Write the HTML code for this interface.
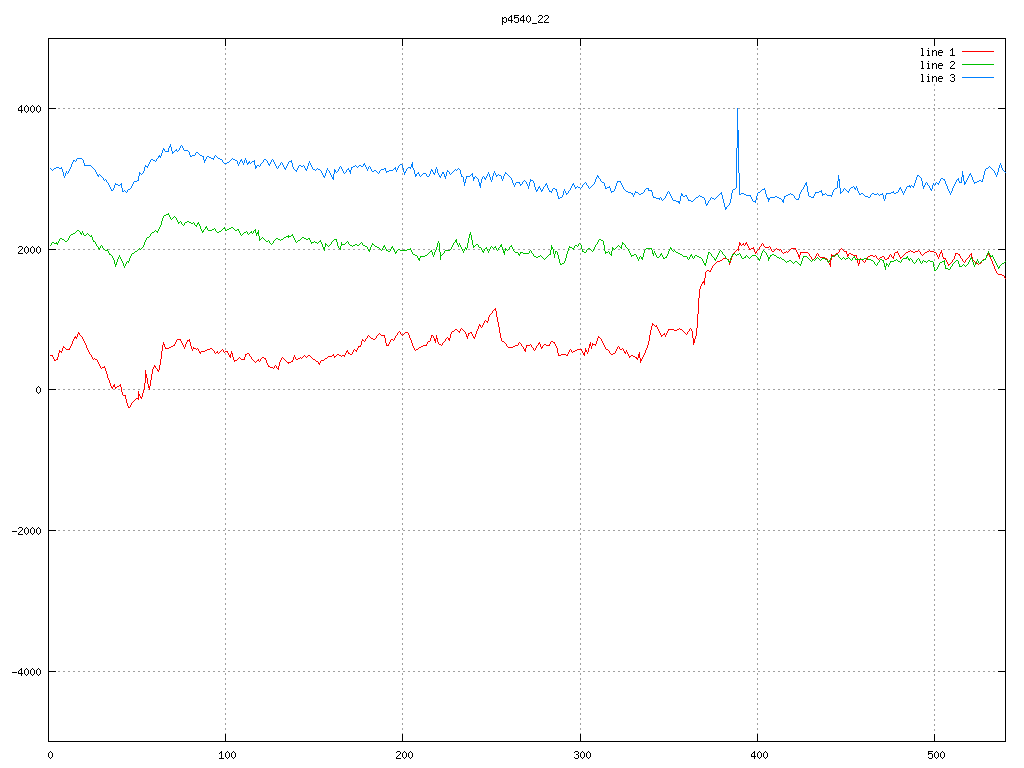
<!DOCTYPE html>
<html><head><meta charset="utf-8"><style>
html,body{margin:0;padding:0;background:#fff;width:1024px;height:768px;overflow:hidden}
svg{display:block}
</style></head><body>
<svg width="1024" height="768" viewBox="0 0 1024 768">
<rect width="1024" height="768" fill="#fff"/>
<g shape-rendering="crispEdges"><line x1="48" y1="671.5" x2="1006" y2="671.5" stroke="#a0a0a0" stroke-dasharray="2 3"/><line x1="48" y1="530.5" x2="1006" y2="530.5" stroke="#a0a0a0" stroke-dasharray="2 3"/><line x1="48" y1="389.5" x2="1006" y2="389.5" stroke="#a0a0a0" stroke-dasharray="2 3"/><line x1="48" y1="249.5" x2="1006" y2="249.5" stroke="#a0a0a0" stroke-dasharray="2 3"/><line x1="48" y1="108.5" x2="1006" y2="108.5" stroke="#a0a0a0" stroke-dasharray="2 3"/><line x1="225.5" y1="38" x2="225.5" y2="742" stroke="#a0a0a0" stroke-dasharray="2 3"/><line x1="402.5" y1="38" x2="402.5" y2="742" stroke="#a0a0a0" stroke-dasharray="2 3"/><line x1="580.5" y1="38" x2="580.5" y2="742" stroke="#a0a0a0" stroke-dasharray="2 3"/><line x1="757.5" y1="38" x2="757.5" y2="742" stroke="#a0a0a0" stroke-dasharray="2 3"/><line x1="934.5" y1="84" x2="934.5" y2="742" stroke="#a0a0a0" stroke-dasharray="2 3"/><rect x="48" y="671" width="8" height="1" fill="#000"/><rect x="998" y="671" width="8" height="1" fill="#000"/><rect x="48" y="530" width="8" height="1" fill="#000"/><rect x="998" y="530" width="8" height="1" fill="#000"/><rect x="48" y="389" width="8" height="1" fill="#000"/><rect x="998" y="389" width="8" height="1" fill="#000"/><rect x="48" y="249" width="8" height="1" fill="#000"/><rect x="998" y="249" width="8" height="1" fill="#000"/><rect x="48" y="108" width="8" height="1" fill="#000"/><rect x="998" y="108" width="8" height="1" fill="#000"/><rect x="225" y="734" width="1" height="8" fill="#000"/><rect x="225" y="38" width="1" height="8" fill="#000"/><rect x="402" y="734" width="1" height="8" fill="#000"/><rect x="402" y="38" width="1" height="8" fill="#000"/><rect x="580" y="734" width="1" height="8" fill="#000"/><rect x="580" y="38" width="1" height="8" fill="#000"/><rect x="757" y="734" width="1" height="8" fill="#000"/><rect x="757" y="38" width="1" height="8" fill="#000"/><rect x="934" y="734" width="1" height="8" fill="#000"/><rect x="934" y="38" width="1" height="8" fill="#000"/><rect x="48" y="38" width="958" height="1" fill="#000"/><rect x="48" y="741" width="958" height="1" fill="#000"/><rect x="48" y="38" width="1" height="704" fill="#000"/><rect x="1005" y="38" width="1" height="704" fill="#000"/></g>
<g shape-rendering="crispEdges"><path fill="#000" d="M12 672h5v1h-5zM21 668h1v1h-1zM20 669h2v1h-2zM19 670h1v1h-1zM21 670h1v1h-1zM18 671h1v1h-1zM21 671h1v1h-1zM18 672h1v1h-1zM21 672h1v1h-1zM18 673h5v1h-5zM21 674h1v1h-1zM21 675h1v1h-1zM26 668h1v1h-1zM25 669h1v1h-1zM27 669h1v1h-1zM24 670h1v1h-1zM28 670h1v1h-1zM24 671h1v1h-1zM28 671h1v1h-1zM24 672h1v1h-1zM28 672h1v1h-1zM24 673h1v1h-1zM28 673h1v1h-1zM25 674h1v1h-1zM27 674h1v1h-1zM26 675h1v1h-1zM32 668h1v1h-1zM31 669h1v1h-1zM33 669h1v1h-1zM30 670h1v1h-1zM34 670h1v1h-1zM30 671h1v1h-1zM34 671h1v1h-1zM30 672h1v1h-1zM34 672h1v1h-1zM30 673h1v1h-1zM34 673h1v1h-1zM31 674h1v1h-1zM33 674h1v1h-1zM32 675h1v1h-1zM38 668h1v1h-1zM37 669h1v1h-1zM39 669h1v1h-1zM36 670h1v1h-1zM40 670h1v1h-1zM36 671h1v1h-1zM40 671h1v1h-1zM36 672h1v1h-1zM40 672h1v1h-1zM36 673h1v1h-1zM40 673h1v1h-1zM37 674h1v1h-1zM39 674h1v1h-1zM38 675h1v1h-1zM12 531h5v1h-5zM19 527h3v1h-3zM18 528h1v1h-1zM22 528h1v1h-1zM22 529h1v1h-1zM21 530h1v1h-1zM20 531h1v1h-1zM19 532h1v1h-1zM18 533h1v1h-1zM18 534h5v1h-5zM26 527h1v1h-1zM25 528h1v1h-1zM27 528h1v1h-1zM24 529h1v1h-1zM28 529h1v1h-1zM24 530h1v1h-1zM28 530h1v1h-1zM24 531h1v1h-1zM28 531h1v1h-1zM24 532h1v1h-1zM28 532h1v1h-1zM25 533h1v1h-1zM27 533h1v1h-1zM26 534h1v1h-1zM32 527h1v1h-1zM31 528h1v1h-1zM33 528h1v1h-1zM30 529h1v1h-1zM34 529h1v1h-1zM30 530h1v1h-1zM34 530h1v1h-1zM30 531h1v1h-1zM34 531h1v1h-1zM30 532h1v1h-1zM34 532h1v1h-1zM31 533h1v1h-1zM33 533h1v1h-1zM32 534h1v1h-1zM38 527h1v1h-1zM37 528h1v1h-1zM39 528h1v1h-1zM36 529h1v1h-1zM40 529h1v1h-1zM36 530h1v1h-1zM40 530h1v1h-1zM36 531h1v1h-1zM40 531h1v1h-1zM36 532h1v1h-1zM40 532h1v1h-1zM37 533h1v1h-1zM39 533h1v1h-1zM38 534h1v1h-1zM38 386h1v1h-1zM37 387h1v1h-1zM39 387h1v1h-1zM36 388h1v1h-1zM40 388h1v1h-1zM36 389h1v1h-1zM40 389h1v1h-1zM36 390h1v1h-1zM40 390h1v1h-1zM36 391h1v1h-1zM40 391h1v1h-1zM37 392h1v1h-1zM39 392h1v1h-1zM38 393h1v1h-1zM19 246h3v1h-3zM18 247h1v1h-1zM22 247h1v1h-1zM22 248h1v1h-1zM21 249h1v1h-1zM20 250h1v1h-1zM19 251h1v1h-1zM18 252h1v1h-1zM18 253h5v1h-5zM26 246h1v1h-1zM25 247h1v1h-1zM27 247h1v1h-1zM24 248h1v1h-1zM28 248h1v1h-1zM24 249h1v1h-1zM28 249h1v1h-1zM24 250h1v1h-1zM28 250h1v1h-1zM24 251h1v1h-1zM28 251h1v1h-1zM25 252h1v1h-1zM27 252h1v1h-1zM26 253h1v1h-1zM32 246h1v1h-1zM31 247h1v1h-1zM33 247h1v1h-1zM30 248h1v1h-1zM34 248h1v1h-1zM30 249h1v1h-1zM34 249h1v1h-1zM30 250h1v1h-1zM34 250h1v1h-1zM30 251h1v1h-1zM34 251h1v1h-1zM31 252h1v1h-1zM33 252h1v1h-1zM32 253h1v1h-1zM38 246h1v1h-1zM37 247h1v1h-1zM39 247h1v1h-1zM36 248h1v1h-1zM40 248h1v1h-1zM36 249h1v1h-1zM40 249h1v1h-1zM36 250h1v1h-1zM40 250h1v1h-1zM36 251h1v1h-1zM40 251h1v1h-1zM37 252h1v1h-1zM39 252h1v1h-1zM38 253h1v1h-1zM21 105h1v1h-1zM20 106h2v1h-2zM19 107h1v1h-1zM21 107h1v1h-1zM18 108h1v1h-1zM21 108h1v1h-1zM18 109h1v1h-1zM21 109h1v1h-1zM18 110h5v1h-5zM21 111h1v1h-1zM21 112h1v1h-1zM26 105h1v1h-1zM25 106h1v1h-1zM27 106h1v1h-1zM24 107h1v1h-1zM28 107h1v1h-1zM24 108h1v1h-1zM28 108h1v1h-1zM24 109h1v1h-1zM28 109h1v1h-1zM24 110h1v1h-1zM28 110h1v1h-1zM25 111h1v1h-1zM27 111h1v1h-1zM26 112h1v1h-1zM32 105h1v1h-1zM31 106h1v1h-1zM33 106h1v1h-1zM30 107h1v1h-1zM34 107h1v1h-1zM30 108h1v1h-1zM34 108h1v1h-1zM30 109h1v1h-1zM34 109h1v1h-1zM30 110h1v1h-1zM34 110h1v1h-1zM31 111h1v1h-1zM33 111h1v1h-1zM32 112h1v1h-1zM38 105h1v1h-1zM37 106h1v1h-1zM39 106h1v1h-1zM36 107h1v1h-1zM40 107h1v1h-1zM36 108h1v1h-1zM40 108h1v1h-1zM36 109h1v1h-1zM40 109h1v1h-1zM36 110h1v1h-1zM40 110h1v1h-1zM37 111h1v1h-1zM39 111h1v1h-1zM38 112h1v1h-1zM50 751h1v1h-1zM49 752h1v1h-1zM51 752h1v1h-1zM48 753h1v1h-1zM52 753h1v1h-1zM48 754h1v1h-1zM52 754h1v1h-1zM48 755h1v1h-1zM52 755h1v1h-1zM48 756h1v1h-1zM52 756h1v1h-1zM49 757h1v1h-1zM51 757h1v1h-1zM50 758h1v1h-1zM221 751h1v1h-1zM220 752h2v1h-2zM219 753h1v1h-1zM221 753h1v1h-1zM221 754h1v1h-1zM221 755h1v1h-1zM221 756h1v1h-1zM221 757h1v1h-1zM219 758h5v1h-5zM227 751h1v1h-1zM226 752h1v1h-1zM228 752h1v1h-1zM225 753h1v1h-1zM229 753h1v1h-1zM225 754h1v1h-1zM229 754h1v1h-1zM225 755h1v1h-1zM229 755h1v1h-1zM225 756h1v1h-1zM229 756h1v1h-1zM226 757h1v1h-1zM228 757h1v1h-1zM227 758h1v1h-1zM233 751h1v1h-1zM232 752h1v1h-1zM234 752h1v1h-1zM231 753h1v1h-1zM235 753h1v1h-1zM231 754h1v1h-1zM235 754h1v1h-1zM231 755h1v1h-1zM235 755h1v1h-1zM231 756h1v1h-1zM235 756h1v1h-1zM232 757h1v1h-1zM234 757h1v1h-1zM233 758h1v1h-1zM397 751h3v1h-3zM396 752h1v1h-1zM400 752h1v1h-1zM400 753h1v1h-1zM399 754h1v1h-1zM398 755h1v1h-1zM397 756h1v1h-1zM396 757h1v1h-1zM396 758h5v1h-5zM404 751h1v1h-1zM403 752h1v1h-1zM405 752h1v1h-1zM402 753h1v1h-1zM406 753h1v1h-1zM402 754h1v1h-1zM406 754h1v1h-1zM402 755h1v1h-1zM406 755h1v1h-1zM402 756h1v1h-1zM406 756h1v1h-1zM403 757h1v1h-1zM405 757h1v1h-1zM404 758h1v1h-1zM410 751h1v1h-1zM409 752h1v1h-1zM411 752h1v1h-1zM408 753h1v1h-1zM412 753h1v1h-1zM408 754h1v1h-1zM412 754h1v1h-1zM408 755h1v1h-1zM412 755h1v1h-1zM408 756h1v1h-1zM412 756h1v1h-1zM409 757h1v1h-1zM411 757h1v1h-1zM410 758h1v1h-1zM575 751h3v1h-3zM574 752h1v1h-1zM578 752h1v1h-1zM578 753h1v1h-1zM576 754h2v1h-2zM578 755h1v1h-1zM578 756h1v1h-1zM574 757h1v1h-1zM578 757h1v1h-1zM575 758h3v1h-3zM582 751h1v1h-1zM581 752h1v1h-1zM583 752h1v1h-1zM580 753h1v1h-1zM584 753h1v1h-1zM580 754h1v1h-1zM584 754h1v1h-1zM580 755h1v1h-1zM584 755h1v1h-1zM580 756h1v1h-1zM584 756h1v1h-1zM581 757h1v1h-1zM583 757h1v1h-1zM582 758h1v1h-1zM588 751h1v1h-1zM587 752h1v1h-1zM589 752h1v1h-1zM586 753h1v1h-1zM590 753h1v1h-1zM586 754h1v1h-1zM590 754h1v1h-1zM586 755h1v1h-1zM590 755h1v1h-1zM586 756h1v1h-1zM590 756h1v1h-1zM587 757h1v1h-1zM589 757h1v1h-1zM588 758h1v1h-1zM754 751h1v1h-1zM753 752h2v1h-2zM752 753h1v1h-1zM754 753h1v1h-1zM751 754h1v1h-1zM754 754h1v1h-1zM751 755h1v1h-1zM754 755h1v1h-1zM751 756h5v1h-5zM754 757h1v1h-1zM754 758h1v1h-1zM759 751h1v1h-1zM758 752h1v1h-1zM760 752h1v1h-1zM757 753h1v1h-1zM761 753h1v1h-1zM757 754h1v1h-1zM761 754h1v1h-1zM757 755h1v1h-1zM761 755h1v1h-1zM757 756h1v1h-1zM761 756h1v1h-1zM758 757h1v1h-1zM760 757h1v1h-1zM759 758h1v1h-1zM765 751h1v1h-1zM764 752h1v1h-1zM766 752h1v1h-1zM763 753h1v1h-1zM767 753h1v1h-1zM763 754h1v1h-1zM767 754h1v1h-1zM763 755h1v1h-1zM767 755h1v1h-1zM763 756h1v1h-1zM767 756h1v1h-1zM764 757h1v1h-1zM766 757h1v1h-1zM765 758h1v1h-1zM928 751h5v1h-5zM928 752h1v1h-1zM928 753h4v1h-4zM928 754h1v1h-1zM932 754h1v1h-1zM932 755h1v1h-1zM932 756h1v1h-1zM928 757h1v1h-1zM932 757h1v1h-1zM929 758h3v1h-3zM936 751h1v1h-1zM935 752h1v1h-1zM937 752h1v1h-1zM934 753h1v1h-1zM938 753h1v1h-1zM934 754h1v1h-1zM938 754h1v1h-1zM934 755h1v1h-1zM938 755h1v1h-1zM934 756h1v1h-1zM938 756h1v1h-1zM935 757h1v1h-1zM937 757h1v1h-1zM936 758h1v1h-1zM942 751h1v1h-1zM941 752h1v1h-1zM943 752h1v1h-1zM940 753h1v1h-1zM944 753h1v1h-1zM940 754h1v1h-1zM944 754h1v1h-1zM940 755h1v1h-1zM944 755h1v1h-1zM940 756h1v1h-1zM944 756h1v1h-1zM941 757h1v1h-1zM943 757h1v1h-1zM942 758h1v1h-1zM502 17h1v1h-1zM504 17h2v1h-2zM502 18h2v1h-2zM506 18h1v1h-1zM502 19h1v1h-1zM506 19h1v1h-1zM502 20h1v1h-1zM506 20h1v1h-1zM502 21h2v1h-2zM506 21h1v1h-1zM502 22h1v1h-1zM504 22h2v1h-2zM502 23h1v1h-1zM502 24h1v1h-1zM511 15h1v1h-1zM510 16h2v1h-2zM509 17h1v1h-1zM511 17h1v1h-1zM508 18h1v1h-1zM511 18h1v1h-1zM508 19h1v1h-1zM511 19h1v1h-1zM508 20h5v1h-5zM511 21h1v1h-1zM511 22h1v1h-1zM514 15h5v1h-5zM514 16h1v1h-1zM514 17h4v1h-4zM514 18h1v1h-1zM518 18h1v1h-1zM518 19h1v1h-1zM518 20h1v1h-1zM514 21h1v1h-1zM518 21h1v1h-1zM515 22h3v1h-3zM523 15h1v1h-1zM522 16h2v1h-2zM521 17h1v1h-1zM523 17h1v1h-1zM520 18h1v1h-1zM523 18h1v1h-1zM520 19h1v1h-1zM523 19h1v1h-1zM520 20h5v1h-5zM523 21h1v1h-1zM523 22h1v1h-1zM528 15h1v1h-1zM527 16h1v1h-1zM529 16h1v1h-1zM526 17h1v1h-1zM530 17h1v1h-1zM526 18h1v1h-1zM530 18h1v1h-1zM526 19h1v1h-1zM530 19h1v1h-1zM526 20h1v1h-1zM530 20h1v1h-1zM527 21h1v1h-1zM529 21h1v1h-1zM528 22h1v1h-1zM532 23h5v1h-5zM539 15h3v1h-3zM538 16h1v1h-1zM542 16h1v1h-1zM542 17h1v1h-1zM541 18h1v1h-1zM540 19h1v1h-1zM539 20h1v1h-1zM538 21h1v1h-1zM538 22h5v1h-5zM545 15h3v1h-3zM544 16h1v1h-1zM548 16h1v1h-1zM548 17h1v1h-1zM547 18h1v1h-1zM546 19h1v1h-1zM545 20h1v1h-1zM544 21h1v1h-1zM544 22h5v1h-5zM921 48h2v1h-2zM922 49h1v1h-1zM922 50h1v1h-1zM922 51h1v1h-1zM922 52h1v1h-1zM922 53h1v1h-1zM922 54h1v1h-1zM921 55h3v1h-3zM928 48h1v1h-1zM927 50h2v1h-2zM928 51h1v1h-1zM928 52h1v1h-1zM928 53h1v1h-1zM928 54h1v1h-1zM927 55h3v1h-3zM932 50h1v1h-1zM934 50h2v1h-2zM932 51h2v1h-2zM936 51h1v1h-1zM932 52h1v1h-1zM936 52h1v1h-1zM932 53h1v1h-1zM936 53h1v1h-1zM932 54h1v1h-1zM936 54h1v1h-1zM932 55h1v1h-1zM936 55h1v1h-1zM939 50h3v1h-3zM938 51h1v1h-1zM942 51h1v1h-1zM938 52h5v1h-5zM938 53h1v1h-1zM938 54h1v1h-1zM939 55h3v1h-3zM952 48h1v1h-1zM951 49h2v1h-2zM950 50h1v1h-1zM952 50h1v1h-1zM952 51h1v1h-1zM952 52h1v1h-1zM952 53h1v1h-1zM952 54h1v1h-1zM950 55h5v1h-5zM921 61h2v1h-2zM922 62h1v1h-1zM922 63h1v1h-1zM922 64h1v1h-1zM922 65h1v1h-1zM922 66h1v1h-1zM922 67h1v1h-1zM921 68h3v1h-3zM928 61h1v1h-1zM927 63h2v1h-2zM928 64h1v1h-1zM928 65h1v1h-1zM928 66h1v1h-1zM928 67h1v1h-1zM927 68h3v1h-3zM932 63h1v1h-1zM934 63h2v1h-2zM932 64h2v1h-2zM936 64h1v1h-1zM932 65h1v1h-1zM936 65h1v1h-1zM932 66h1v1h-1zM936 66h1v1h-1zM932 67h1v1h-1zM936 67h1v1h-1zM932 68h1v1h-1zM936 68h1v1h-1zM939 63h3v1h-3zM938 64h1v1h-1zM942 64h1v1h-1zM938 65h5v1h-5zM938 66h1v1h-1zM938 67h1v1h-1zM939 68h3v1h-3zM951 61h3v1h-3zM950 62h1v1h-1zM954 62h1v1h-1zM954 63h1v1h-1zM953 64h1v1h-1zM952 65h1v1h-1zM951 66h1v1h-1zM950 67h1v1h-1zM950 68h5v1h-5zM921 74h2v1h-2zM922 75h1v1h-1zM922 76h1v1h-1zM922 77h1v1h-1zM922 78h1v1h-1zM922 79h1v1h-1zM922 80h1v1h-1zM921 81h3v1h-3zM928 74h1v1h-1zM927 76h2v1h-2zM928 77h1v1h-1zM928 78h1v1h-1zM928 79h1v1h-1zM928 80h1v1h-1zM927 81h3v1h-3zM932 76h1v1h-1zM934 76h2v1h-2zM932 77h2v1h-2zM936 77h1v1h-1zM932 78h1v1h-1zM936 78h1v1h-1zM932 79h1v1h-1zM936 79h1v1h-1zM932 80h1v1h-1zM936 80h1v1h-1zM932 81h1v1h-1zM936 81h1v1h-1zM939 76h3v1h-3zM938 77h1v1h-1zM942 77h1v1h-1zM938 78h5v1h-5zM938 79h1v1h-1zM938 80h1v1h-1zM939 81h3v1h-3zM951 74h3v1h-3zM950 75h1v1h-1zM954 75h1v1h-1zM954 76h1v1h-1zM952 77h2v1h-2zM954 78h1v1h-1zM954 79h1v1h-1zM950 80h1v1h-1zM954 80h1v1h-1zM951 81h3v1h-3z"/></g>
<g shape-rendering="crispEdges"><rect x="962" y="51" width="32" height="1" fill="#ff0000"/><rect x="962" y="64" width="32" height="1" fill="#00c000"/><rect x="962" y="77" width="32" height="1" fill="#0080ff"/></g>
<g shape-rendering="crispEdges"><path fill="#ff0000" d="M739 242h1v1h-1zM746 242h1v1h-1zM739 243h2v1h-2zM743 243h1v1h-1zM745 243h2v1h-2zM762 243h1v1h-1zM739 244h2v1h-2zM742 244h2v1h-2zM745 244h1v1h-1zM747 244h1v1h-1zM761 244h1v1h-1zM763 244h1v1h-1zM739 245h1v1h-1zM741 245h1v1h-1zM744 245h1v1h-1zM747 245h1v1h-1zM761 245h1v1h-1zM763 245h1v1h-1zM738 246h1v1h-1zM748 246h1v1h-1zM760 246h1v1h-1zM764 246h1v1h-1zM769 246h1v1h-1zM738 247h1v1h-1zM748 247h1v1h-1zM753 247h1v1h-1zM759 247h1v1h-1zM765 247h4v1h-4zM770 247h1v1h-1zM738 248h1v1h-1zM749 248h1v1h-1zM751 248h3v1h-3zM759 248h1v1h-1zM770 248h1v1h-1zM776 248h1v1h-1zM791 248h5v1h-5zM841 248h1v1h-1zM737 249h2v1h-2zM749 249h2v1h-2zM754 249h1v1h-1zM758 249h1v1h-1zM771 249h1v1h-1zM775 249h1v1h-1zM777 249h2v1h-2zM780 249h1v1h-1zM790 249h1v1h-1zM795 249h1v1h-1zM840 249h1v1h-1zM842 249h1v1h-1zM736 250h1v1h-1zM738 250h1v1h-1zM754 250h1v1h-1zM757 250h1v1h-1zM771 250h1v1h-1zM774 250h1v1h-1zM779 250h1v1h-1zM781 250h1v1h-1zM789 250h1v1h-1zM796 250h1v1h-1zM839 250h1v1h-1zM843 250h1v1h-1zM910 250h1v1h-1zM918 250h1v1h-1zM929 250h1v1h-1zM941 250h1v1h-1zM735 251h1v1h-1zM754 251h1v1h-1zM756 251h1v1h-1zM772 251h2v1h-2zM781 251h1v1h-1zM786 251h1v1h-1zM788 251h1v1h-1zM796 251h1v1h-1zM839 251h1v1h-1zM844 251h3v1h-3zM897 251h1v1h-1zM908 251h2v1h-2zM911 251h2v1h-2zM915 251h3v1h-3zM919 251h1v1h-1zM927 251h2v1h-2zM930 251h4v1h-4zM941 251h1v1h-1zM734 252h1v1h-1zM755 252h2v1h-2zM782 252h1v1h-1zM784 252h2v1h-2zM787 252h1v1h-1zM797 252h1v1h-1zM800 252h8v1h-8zM838 252h1v1h-1zM846 252h1v1h-1zM895 252h3v1h-3zM906 252h2v1h-2zM913 252h2v1h-2zM920 252h1v1h-1zM925 252h2v1h-2zM934 252h2v1h-2zM940 252h2v1h-2zM733 253h1v1h-1zM755 253h1v1h-1zM783 253h1v1h-1zM797 253h1v1h-1zM800 253h1v1h-1zM808 253h1v1h-1zM817 253h1v1h-1zM836 253h2v1h-2zM846 253h1v1h-1zM849 253h2v1h-2zM894 253h1v1h-1zM898 253h1v1h-1zM905 253h1v1h-1zM920 253h1v1h-1zM924 253h1v1h-1zM936 253h1v1h-1zM940 253h1v1h-1zM942 253h1v1h-1zM955 253h3v1h-3zM971 253h1v1h-1zM988 253h1v1h-1zM733 254h1v1h-1zM798 254h1v1h-1zM800 254h1v1h-1zM809 254h1v1h-1zM816 254h1v1h-1zM818 254h1v1h-1zM831 254h1v1h-1zM835 254h1v1h-1zM847 254h2v1h-2zM851 254h2v1h-2zM890 254h1v1h-1zM894 254h1v1h-1zM898 254h1v1h-1zM904 254h1v1h-1zM921 254h1v1h-1zM923 254h1v1h-1zM936 254h1v1h-1zM939 254h1v1h-1zM942 254h1v1h-1zM955 254h1v1h-1zM958 254h2v1h-2zM970 254h2v1h-2zM987 254h2v1h-2zM732 255h1v1h-1zM798 255h2v1h-2zM809 255h1v1h-1zM816 255h1v1h-1zM818 255h1v1h-1zM831 255h3v1h-3zM835 255h1v1h-1zM847 255h2v1h-2zM853 255h4v1h-4zM870 255h3v1h-3zM875 255h1v1h-1zM889 255h1v1h-1zM891 255h1v1h-1zM894 255h1v1h-1zM899 255h1v1h-1zM903 255h1v1h-1zM922 255h1v1h-1zM937 255h1v1h-1zM939 255h1v1h-1zM942 255h1v1h-1zM955 255h1v1h-1zM959 255h1v1h-1zM969 255h1v1h-1zM971 255h1v1h-1zM987 255h1v1h-1zM989 255h1v1h-1zM732 256h1v1h-1zM798 256h2v1h-2zM810 256h1v1h-1zM815 256h1v1h-1zM819 256h1v1h-1zM831 256h1v1h-1zM834 256h1v1h-1zM847 256h1v1h-1zM856 256h1v1h-1zM868 256h2v1h-2zM873 256h2v1h-2zM876 256h1v1h-1zM882 256h2v1h-2zM889 256h1v1h-1zM891 256h1v1h-1zM893 256h1v1h-1zM899 256h1v1h-1zM902 256h1v1h-1zM937 256h1v1h-1zM939 256h1v1h-1zM942 256h1v1h-1zM954 256h1v1h-1zM960 256h1v1h-1zM969 256h1v1h-1zM971 256h1v1h-1zM986 256h1v1h-1zM989 256h1v1h-1zM731 257h1v1h-1zM799 257h1v1h-1zM811 257h1v1h-1zM815 257h1v1h-1zM820 257h5v1h-5zM831 257h1v1h-1zM856 257h1v1h-1zM867 257h1v1h-1zM876 257h1v1h-1zM880 257h2v1h-2zM884 257h1v1h-1zM888 257h1v1h-1zM892 257h2v1h-2zM900 257h2v1h-2zM938 257h1v1h-1zM943 257h1v1h-1zM954 257h1v1h-1zM960 257h1v1h-1zM968 257h1v1h-1zM972 257h1v1h-1zM986 257h1v1h-1zM990 257h1v1h-1zM723 258h4v1h-4zM731 258h1v1h-1zM799 258h1v1h-1zM811 258h1v1h-1zM814 258h1v1h-1zM825 258h2v1h-2zM831 258h1v1h-1zM857 258h1v1h-1zM860 258h1v1h-1zM867 258h1v1h-1zM877 258h1v1h-1zM879 258h1v1h-1zM884 258h1v1h-1zM887 258h2v1h-2zM893 258h1v1h-1zM900 258h1v1h-1zM938 258h1v1h-1zM943 258h3v1h-3zM954 258h1v1h-1zM961 258h1v1h-1zM967 258h1v1h-1zM972 258h1v1h-1zM985 258h1v1h-1zM990 258h1v1h-1zM722 259h1v1h-1zM727 259h2v1h-2zM731 259h1v1h-1zM812 259h2v1h-2zM827 259h1v1h-1zM831 259h1v1h-1zM857 259h1v1h-1zM860 259h2v1h-2zM866 259h1v1h-1zM878 259h1v1h-1zM885 259h2v1h-2zM945 259h1v1h-1zM953 259h1v1h-1zM962 259h1v1h-1zM966 259h1v1h-1zM972 259h1v1h-1zM983 259h2v1h-2zM991 259h1v1h-1zM720 260h2v1h-2zM728 260h1v1h-1zM730 260h1v1h-1zM827 260h1v1h-1zM830 260h1v1h-1zM857 260h1v1h-1zM859 260h1v1h-1zM862 260h1v1h-1zM865 260h1v1h-1zM946 260h1v1h-1zM952 260h1v1h-1zM962 260h1v1h-1zM965 260h1v1h-1zM973 260h1v1h-1zM982 260h1v1h-1zM991 260h1v1h-1zM717 261h3v1h-3zM728 261h1v1h-1zM730 261h1v1h-1zM828 261h1v1h-1zM830 261h1v1h-1zM857 261h1v1h-1zM859 261h1v1h-1zM863 261h1v1h-1zM865 261h1v1h-1zM946 261h1v1h-1zM952 261h1v1h-1zM963 261h1v1h-1zM965 261h1v1h-1zM974 261h1v1h-1zM981 261h1v1h-1zM992 261h1v1h-1zM716 262h1v1h-1zM729 262h2v1h-2zM828 262h1v1h-1zM830 262h1v1h-1zM857 262h1v1h-1zM859 262h1v1h-1zM864 262h1v1h-1zM947 262h1v1h-1zM951 262h1v1h-1zM964 262h1v1h-1zM975 262h1v1h-1zM981 262h1v1h-1zM992 262h1v1h-1zM715 263h1v1h-1zM729 263h1v1h-1zM829 263h2v1h-2zM858 263h2v1h-2zM947 263h1v1h-1zM950 263h1v1h-1zM976 263h2v1h-2zM979 263h2v1h-2zM992 263h1v1h-1zM714 264h1v1h-1zM729 264h1v1h-1zM829 264h2v1h-2zM858 264h1v1h-1zM948 264h2v1h-2zM978 264h1v1h-1zM993 264h1v1h-1zM713 265h1v1h-1zM830 265h1v1h-1zM858 265h1v1h-1zM948 265h1v1h-1zM993 265h1v1h-1zM712 266h1v1h-1zM830 266h1v1h-1zM994 266h1v1h-1zM712 267h1v1h-1zM994 267h1v1h-1zM711 268h1v1h-1zM994 268h1v1h-1zM711 269h1v1h-1zM995 269h1v1h-1zM707 270h2v1h-2zM710 270h1v1h-1zM995 270h1v1h-1zM706 271h1v1h-1zM709 271h2v1h-2zM996 271h1v1h-1zM705 272h1v1h-1zM996 272h1v1h-1zM705 273h1v1h-1zM997 273h1v1h-1zM705 274h1v1h-1zM998 274h4v1h-4zM705 275h1v1h-1zM1002 275h2v1h-2zM705 276h1v1h-1zM1004 276h1v1h-1zM705 277h1v1h-1zM1004 277h1v1h-1zM704 278h1v1h-1zM1005 278h1v1h-1zM704 279h1v1h-1zM704 280h1v1h-1zM703 281h2v1h-2zM702 282h3v1h-3zM702 283h1v1h-1zM704 283h1v1h-1zM701 284h1v1h-1zM704 284h1v1h-1zM701 285h1v1h-1zM700 286h1v1h-1zM700 287h1v1h-1zM700 288h1v1h-1zM699 289h1v1h-1zM699 290h1v1h-1zM699 291h1v1h-1zM699 292h1v1h-1zM699 293h1v1h-1zM699 294h1v1h-1zM699 295h1v1h-1zM699 296h1v1h-1zM699 297h1v1h-1zM698 298h1v1h-1zM698 299h1v1h-1zM698 300h1v1h-1zM698 301h1v1h-1zM698 302h1v1h-1zM698 303h1v1h-1zM698 304h1v1h-1zM698 305h1v1h-1zM698 306h1v1h-1zM698 307h1v1h-1zM495 308h1v1h-1zM698 308h1v1h-1zM494 309h2v1h-2zM698 309h1v1h-1zM493 310h1v1h-1zM495 310h1v1h-1zM698 310h1v1h-1zM492 311h1v1h-1zM496 311h1v1h-1zM698 311h1v1h-1zM492 312h1v1h-1zM496 312h1v1h-1zM698 312h1v1h-1zM491 313h1v1h-1zM496 313h1v1h-1zM698 313h1v1h-1zM490 314h1v1h-1zM496 314h1v1h-1zM697 314h1v1h-1zM489 315h1v1h-1zM496 315h1v1h-1zM697 315h1v1h-1zM489 316h1v1h-1zM496 316h1v1h-1zM697 316h1v1h-1zM488 317h1v1h-1zM497 317h1v1h-1zM697 317h1v1h-1zM488 318h1v1h-1zM497 318h1v1h-1zM697 318h1v1h-1zM488 319h1v1h-1zM497 319h1v1h-1zM697 319h1v1h-1zM485 320h1v1h-1zM488 320h1v1h-1zM497 320h1v1h-1zM697 320h1v1h-1zM484 321h1v1h-1zM486 321h2v1h-2zM497 321h1v1h-1zM697 321h1v1h-1zM484 322h1v1h-1zM487 322h1v1h-1zM498 322h1v1h-1zM697 322h1v1h-1zM483 323h1v1h-1zM498 323h1v1h-1zM652 323h1v1h-1zM697 323h1v1h-1zM479 324h1v1h-1zM483 324h1v1h-1zM498 324h1v1h-1zM652 324h2v1h-2zM697 324h1v1h-1zM479 325h2v1h-2zM482 325h1v1h-1zM498 325h1v1h-1zM652 325h1v1h-1zM654 325h1v1h-1zM656 325h1v1h-1zM697 325h1v1h-1zM478 326h1v1h-1zM480 326h1v1h-1zM482 326h1v1h-1zM498 326h1v1h-1zM651 326h1v1h-1zM655 326h2v1h-2zM697 326h1v1h-1zM478 327h1v1h-1zM481 327h1v1h-1zM499 327h1v1h-1zM651 327h1v1h-1zM657 327h1v1h-1zM697 327h1v1h-1zM461 328h1v1h-1zM478 328h1v1h-1zM499 328h1v1h-1zM651 328h1v1h-1zM657 328h1v1h-1zM679 328h1v1h-1zM690 328h1v1h-1zM696 328h1v1h-1zM455 329h2v1h-2zM460 329h1v1h-1zM462 329h1v1h-1zM477 329h1v1h-1zM499 329h1v1h-1zM651 329h1v1h-1zM658 329h1v1h-1zM668 329h6v1h-6zM677 329h2v1h-2zM680 329h2v1h-2zM689 329h1v1h-1zM691 329h1v1h-1zM696 329h1v1h-1zM454 330h1v1h-1zM457 330h1v1h-1zM460 330h1v1h-1zM463 330h1v1h-1zM477 330h1v1h-1zM499 330h1v1h-1zM650 330h1v1h-1zM658 330h1v1h-1zM668 330h1v1h-1zM674 330h3v1h-3zM682 330h1v1h-1zM689 330h1v1h-1zM691 330h1v1h-1zM696 330h1v1h-1zM399 331h1v1h-1zM452 331h2v1h-2zM458 331h2v1h-2zM464 331h1v1h-1zM476 331h1v1h-1zM499 331h1v1h-1zM650 331h1v1h-1zM659 331h1v1h-1zM667 331h1v1h-1zM683 331h1v1h-1zM688 331h1v1h-1zM692 331h1v1h-1zM696 331h1v1h-1zM78 332h1v1h-1zM398 332h1v1h-1zM400 332h1v1h-1zM405 332h3v1h-3zM451 332h1v1h-1zM459 332h1v1h-1zM465 332h1v1h-1zM470 332h2v1h-2zM476 332h1v1h-1zM499 332h1v1h-1zM650 332h1v1h-1zM659 332h1v1h-1zM667 332h1v1h-1zM684 332h1v1h-1zM687 332h1v1h-1zM692 332h1v1h-1zM696 332h1v1h-1zM78 333h2v1h-2zM379 333h1v1h-1zM397 333h1v1h-1zM400 333h1v1h-1zM404 333h1v1h-1zM408 333h1v1h-1zM451 333h1v1h-1zM465 333h1v1h-1zM468 333h2v1h-2zM471 333h1v1h-1zM476 333h1v1h-1zM500 333h1v1h-1zM650 333h1v1h-1zM660 333h1v1h-1zM664 333h1v1h-1zM666 333h1v1h-1zM685 333h1v1h-1zM687 333h1v1h-1zM692 333h1v1h-1zM696 333h1v1h-1zM77 334h1v1h-1zM79 334h1v1h-1zM378 334h1v1h-1zM380 334h1v1h-1zM397 334h1v1h-1zM401 334h1v1h-1zM403 334h1v1h-1zM408 334h1v1h-1zM450 334h1v1h-1zM466 334h1v1h-1zM468 334h1v1h-1zM472 334h1v1h-1zM475 334h1v1h-1zM500 334h1v1h-1zM650 334h1v1h-1zM660 334h1v1h-1zM663 334h2v1h-2zM666 334h1v1h-1zM686 334h1v1h-1zM692 334h1v1h-1zM696 334h1v1h-1zM77 335h1v1h-1zM80 335h1v1h-1zM368 335h1v1h-1zM377 335h1v1h-1zM381 335h4v1h-4zM396 335h1v1h-1zM402 335h1v1h-1zM409 335h1v1h-1zM431 335h2v1h-2zM436 335h1v1h-1zM450 335h1v1h-1zM466 335h1v1h-1zM468 335h1v1h-1zM472 335h1v1h-1zM475 335h1v1h-1zM500 335h1v1h-1zM649 335h1v1h-1zM661 335h2v1h-2zM665 335h1v1h-1zM692 335h1v1h-1zM696 335h1v1h-1zM75 336h1v1h-1zM77 336h1v1h-1zM81 336h1v1h-1zM367 336h1v1h-1zM369 336h1v1h-1zM376 336h1v1h-1zM384 336h1v1h-1zM395 336h1v1h-1zM409 336h1v1h-1zM431 336h1v1h-1zM433 336h1v1h-1zM436 336h1v1h-1zM450 336h1v1h-1zM466 336h2v1h-2zM473 336h1v1h-1zM475 336h1v1h-1zM500 336h1v1h-1zM598 336h1v1h-1zM649 336h1v1h-1zM661 336h1v1h-1zM665 336h1v1h-1zM692 336h1v1h-1zM695 336h1v1h-1zM74 337h3v1h-3zM82 337h1v1h-1zM367 337h1v1h-1zM370 337h1v1h-1zM376 337h1v1h-1zM384 337h1v1h-1zM395 337h1v1h-1zM409 337h1v1h-1zM431 337h1v1h-1zM433 337h1v1h-1zM436 337h1v1h-1zM447 337h1v1h-1zM450 337h1v1h-1zM467 337h1v1h-1zM473 337h2v1h-2zM500 337h1v1h-1zM598 337h2v1h-2zM649 337h1v1h-1zM692 337h1v1h-1zM695 337h1v1h-1zM74 338h1v1h-1zM76 338h1v1h-1zM82 338h1v1h-1zM366 338h1v1h-1zM371 338h2v1h-2zM375 338h1v1h-1zM385 338h1v1h-1zM394 338h1v1h-1zM410 338h1v1h-1zM430 338h1v1h-1zM434 338h1v1h-1zM436 338h2v1h-2zM446 338h1v1h-1zM448 338h2v1h-2zM467 338h1v1h-1zM474 338h1v1h-1zM501 338h1v1h-1zM597 338h1v1h-1zM600 338h1v1h-1zM649 338h1v1h-1zM693 338h1v1h-1zM695 338h1v1h-1zM73 339h1v1h-1zM83 339h1v1h-1zM177 339h4v1h-4zM189 339h1v1h-1zM362 339h1v1h-1zM365 339h1v1h-1zM373 339h2v1h-2zM385 339h1v1h-1zM391 339h2v1h-2zM394 339h1v1h-1zM410 339h1v1h-1zM430 339h1v1h-1zM434 339h2v1h-2zM437 339h1v1h-1zM445 339h1v1h-1zM448 339h2v1h-2zM501 339h1v1h-1zM597 339h1v1h-1zM601 339h1v1h-1zM649 339h1v1h-1zM693 339h2v1h-2zM73 340h1v1h-1zM83 340h1v1h-1zM176 340h1v1h-1zM180 340h1v1h-1zM187 340h3v1h-3zM362 340h2v1h-2zM365 340h1v1h-1zM385 340h1v1h-1zM390 340h1v1h-1zM393 340h1v1h-1zM411 340h1v1h-1zM430 340h1v1h-1zM434 340h2v1h-2zM437 340h1v1h-1zM445 340h1v1h-1zM449 340h1v1h-1zM501 340h1v1h-1zM597 340h1v1h-1zM601 340h1v1h-1zM649 340h1v1h-1zM693 340h2v1h-2zM72 341h1v1h-1zM84 341h1v1h-1zM176 341h1v1h-1zM181 341h1v1h-1zM187 341h1v1h-1zM189 341h1v1h-1zM361 341h1v1h-1zM364 341h1v1h-1zM385 341h1v1h-1zM390 341h1v1h-1zM411 341h1v1h-1zM428 341h2v1h-2zM435 341h1v1h-1zM437 341h1v1h-1zM444 341h1v1h-1zM502 341h2v1h-2zM551 341h2v1h-2zM596 341h1v1h-1zM602 341h1v1h-1zM648 341h1v1h-1zM693 341h2v1h-2zM72 342h1v1h-1zM84 342h1v1h-1zM163 342h1v1h-1zM175 342h1v1h-1zM181 342h1v1h-1zM186 342h1v1h-1zM190 342h1v1h-1zM361 342h1v1h-1zM385 342h1v1h-1zM389 342h1v1h-1zM411 342h1v1h-1zM427 342h1v1h-1zM435 342h1v1h-1zM438 342h1v1h-1zM443 342h1v1h-1zM504 342h1v1h-1zM519 342h1v1h-1zM539 342h1v1h-1zM550 342h1v1h-1zM553 342h2v1h-2zM590 342h1v1h-1zM596 342h1v1h-1zM602 342h1v1h-1zM648 342h1v1h-1zM693 342h2v1h-2zM72 343h1v1h-1zM85 343h1v1h-1zM163 343h1v1h-1zM175 343h1v1h-1zM182 343h1v1h-1zM186 343h1v1h-1zM190 343h1v1h-1zM361 343h1v1h-1zM386 343h1v1h-1zM389 343h1v1h-1zM412 343h1v1h-1zM427 343h1v1h-1zM438 343h1v1h-1zM442 343h1v1h-1zM505 343h1v1h-1zM518 343h1v1h-1zM520 343h1v1h-1zM538 343h2v1h-2zM550 343h1v1h-1zM554 343h1v1h-1zM590 343h1v1h-1zM592 343h1v1h-1zM596 343h1v1h-1zM603 343h1v1h-1zM648 343h1v1h-1zM693 343h1v1h-1zM71 344h1v1h-1zM85 344h1v1h-1zM163 344h2v1h-2zM174 344h1v1h-1zM182 344h1v1h-1zM185 344h1v1h-1zM190 344h1v1h-1zM361 344h1v1h-1zM386 344h1v1h-1zM388 344h1v1h-1zM412 344h1v1h-1zM426 344h1v1h-1zM439 344h2v1h-2zM442 344h1v1h-1zM506 344h1v1h-1zM518 344h1v1h-1zM521 344h1v1h-1zM530 344h1v1h-1zM538 344h1v1h-1zM540 344h1v1h-1zM544 344h2v1h-2zM549 344h1v1h-1zM555 344h1v1h-1zM589 344h2v1h-2zM592 344h4v1h-4zM603 344h1v1h-1zM648 344h1v1h-1zM693 344h1v1h-1zM71 345h1v1h-1zM86 345h1v1h-1zM162 345h1v1h-1zM164 345h1v1h-1zM173 345h2v1h-2zM183 345h1v1h-1zM185 345h1v1h-1zM190 345h1v1h-1zM360 345h1v1h-1zM386 345h3v1h-3zM412 345h1v1h-1zM423 345h4v1h-4zM441 345h1v1h-1zM506 345h1v1h-1zM515 345h3v1h-3zM521 345h1v1h-1zM526 345h4v1h-4zM531 345h1v1h-1zM537 345h1v1h-1zM540 345h1v1h-1zM543 345h1v1h-1zM546 345h4v1h-4zM555 345h1v1h-1zM589 345h2v1h-2zM592 345h1v1h-1zM595 345h1v1h-1zM604 345h1v1h-1zM647 345h1v1h-1zM63 346h1v1h-1zM70 346h1v1h-1zM86 346h1v1h-1zM162 346h1v1h-1zM164 346h1v1h-1zM171 346h2v1h-2zM183 346h1v1h-1zM185 346h1v1h-1zM191 346h1v1h-1zM358 346h3v1h-3zM413 346h1v1h-1zM421 346h2v1h-2zM507 346h1v1h-1zM513 346h2v1h-2zM522 346h1v1h-1zM526 346h1v1h-1zM531 346h1v1h-1zM536 346h1v1h-1zM540 346h1v1h-1zM542 346h1v1h-1zM556 346h1v1h-1zM589 346h1v1h-1zM591 346h1v1h-1zM604 346h1v1h-1zM618 346h1v1h-1zM647 346h1v1h-1zM63 347h2v1h-2zM70 347h1v1h-1zM86 347h1v1h-1zM162 347h1v1h-1zM165 347h1v1h-1zM169 347h2v1h-2zM184 347h1v1h-1zM191 347h1v1h-1zM193 347h1v1h-1zM358 347h1v1h-1zM413 347h1v1h-1zM419 347h2v1h-2zM508 347h5v1h-5zM523 347h1v1h-1zM526 347h1v1h-1zM532 347h1v1h-1zM536 347h1v1h-1zM541 347h2v1h-2zM556 347h1v1h-1zM589 347h1v1h-1zM591 347h1v1h-1zM605 347h1v1h-1zM617 347h1v1h-1zM619 347h1v1h-1zM647 347h1v1h-1zM62 348h1v1h-1zM65 348h1v1h-1zM69 348h1v1h-1zM87 348h1v1h-1zM162 348h1v1h-1zM165 348h4v1h-4zM184 348h1v1h-1zM191 348h1v1h-1zM193 348h3v1h-3zM197 348h1v1h-1zM210 348h2v1h-2zM357 348h1v1h-1zM414 348h1v1h-1zM418 348h1v1h-1zM523 348h1v1h-1zM525 348h1v1h-1zM533 348h1v1h-1zM535 348h1v1h-1zM541 348h1v1h-1zM557 348h1v1h-1zM585 348h1v1h-1zM588 348h1v1h-1zM591 348h1v1h-1zM605 348h1v1h-1zM617 348h1v1h-1zM619 348h1v1h-1zM622 348h1v1h-1zM646 348h1v1h-1zM62 349h1v1h-1zM66 349h4v1h-4zM87 349h1v1h-1zM162 349h1v1h-1zM192 349h1v1h-1zM196 349h1v1h-1zM198 349h1v1h-1zM207 349h3v1h-3zM212 349h1v1h-1zM222 349h1v1h-1zM354 349h1v1h-1zM357 349h1v1h-1zM414 349h1v1h-1zM416 349h2v1h-2zM524 349h2v1h-2zM533 349h1v1h-1zM535 349h1v1h-1zM557 349h1v1h-1zM570 349h1v1h-1zM577 349h5v1h-5zM585 349h1v1h-1zM588 349h1v1h-1zM606 349h2v1h-2zM616 349h1v1h-1zM620 349h2v1h-2zM623 349h1v1h-1zM646 349h1v1h-1zM59 350h1v1h-1zM62 350h1v1h-1zM88 350h1v1h-1zM162 350h1v1h-1zM192 350h1v1h-1zM198 350h1v1h-1zM205 350h2v1h-2zM213 350h1v1h-1zM221 350h1v1h-1zM223 350h1v1h-1zM347 350h1v1h-1zM353 350h1v1h-1zM355 350h2v1h-2zM415 350h1v1h-1zM524 350h2v1h-2zM534 350h1v1h-1zM557 350h1v1h-1zM569 350h1v1h-1zM571 350h1v1h-1zM575 350h2v1h-2zM581 350h1v1h-1zM585 350h2v1h-2zM588 350h1v1h-1zM608 350h1v1h-1zM616 350h1v1h-1zM623 350h1v1h-1zM626 350h1v1h-1zM645 350h1v1h-1zM59 351h3v1h-3zM88 351h1v1h-1zM161 351h1v1h-1zM199 351h1v1h-1zM201 351h4v1h-4zM214 351h1v1h-1zM217 351h1v1h-1zM220 351h1v1h-1zM223 351h1v1h-1zM225 351h3v1h-3zM231 351h1v1h-1zM346 351h2v1h-2zM353 351h1v1h-1zM356 351h1v1h-1zM525 351h1v1h-1zM557 351h1v1h-1zM569 351h1v1h-1zM571 351h1v1h-1zM573 351h2v1h-2zM582 351h1v1h-1zM585 351h2v1h-2zM588 351h1v1h-1zM609 351h1v1h-1zM615 351h1v1h-1zM624 351h1v1h-1zM626 351h1v1h-1zM645 351h1v1h-1zM59 352h1v1h-1zM61 352h1v1h-1zM89 352h1v1h-1zM161 352h1v1h-1zM199 352h2v1h-2zM214 352h1v1h-1zM216 352h2v1h-2zM219 352h1v1h-1zM224 352h1v1h-1zM227 352h1v1h-1zM231 352h1v1h-1zM346 352h1v1h-1zM348 352h1v1h-1zM352 352h1v1h-1zM557 352h1v1h-1zM568 352h1v1h-1zM572 352h1v1h-1zM582 352h1v1h-1zM584 352h1v1h-1zM587 352h1v1h-1zM609 352h1v1h-1zM615 352h1v1h-1zM624 352h2v1h-2zM627 352h1v1h-1zM639 352h1v1h-1zM645 352h1v1h-1zM58 353h1v1h-1zM89 353h1v1h-1zM161 353h1v1h-1zM200 353h1v1h-1zM215 353h1v1h-1zM218 353h1v1h-1zM228 353h1v1h-1zM231 353h2v1h-2zM247 353h2v1h-2zM345 353h1v1h-1zM348 353h2v1h-2zM352 353h1v1h-1zM558 353h1v1h-1zM568 353h1v1h-1zM583 353h2v1h-2zM587 353h1v1h-1zM610 353h1v1h-1zM613 353h2v1h-2zM625 353h1v1h-1zM627 353h1v1h-1zM639 353h1v1h-1zM644 353h1v1h-1zM58 354h1v1h-1zM90 354h1v1h-1zM161 354h1v1h-1zM228 354h1v1h-1zM230 354h1v1h-1zM232 354h1v1h-1zM245 354h2v1h-2zM249 354h1v1h-1zM333 354h1v1h-1zM337 354h2v1h-2zM345 354h1v1h-1zM350 354h2v1h-2zM558 354h1v1h-1zM561 354h5v1h-5zM567 354h1v1h-1zM583 354h2v1h-2zM611 354h2v1h-2zM628 354h1v1h-1zM638 354h2v1h-2zM644 354h1v1h-1zM50 355h3v1h-3zM58 355h1v1h-1zM91 355h1v1h-1zM161 355h1v1h-1zM229 355h2v1h-2zM232 355h1v1h-1zM245 355h1v1h-1zM249 355h1v1h-1zM294 355h1v1h-1zM304 355h1v1h-1zM308 355h2v1h-2zM332 355h2v1h-2zM336 355h1v1h-1zM339 355h2v1h-2zM342 355h3v1h-3zM558 355h3v1h-3zM566 355h2v1h-2zM584 355h1v1h-1zM628 355h1v1h-1zM631 355h2v1h-2zM638 355h2v1h-2zM643 355h1v1h-1zM52 356h1v1h-1zM58 356h1v1h-1zM91 356h1v1h-1zM161 356h1v1h-1zM229 356h2v1h-2zM232 356h1v1h-1zM245 356h1v1h-1zM250 356h1v1h-1zM294 356h1v1h-1zM303 356h1v1h-1zM305 356h1v1h-1zM307 356h1v1h-1zM310 356h1v1h-1zM328 356h4v1h-4zM334 356h2v1h-2zM341 356h1v1h-1zM344 356h1v1h-1zM629 356h2v1h-2zM633 356h2v1h-2zM638 356h2v1h-2zM643 356h1v1h-1zM53 357h1v1h-1zM57 357h1v1h-1zM92 357h1v1h-1zM161 357h1v1h-1zM230 357h1v1h-1zM233 357h1v1h-1zM239 357h1v1h-1zM244 357h1v1h-1zM251 357h1v1h-1zM262 357h2v1h-2zM282 357h1v1h-1zM293 357h1v1h-1zM295 357h1v1h-1zM300 357h1v1h-1zM302 357h1v1h-1zM306 357h1v1h-1zM311 357h1v1h-1zM327 357h1v1h-1zM334 357h1v1h-1zM629 357h1v1h-1zM635 357h2v1h-2zM638 357h2v1h-2zM642 357h1v1h-1zM53 358h1v1h-1zM57 358h1v1h-1zM92 358h1v1h-1zM94 358h1v1h-1zM161 358h1v1h-1zM233 358h1v1h-1zM238 358h1v1h-1zM240 358h1v1h-1zM244 358h1v1h-1zM251 358h1v1h-1zM261 358h1v1h-1zM264 358h2v1h-2zM281 358h1v1h-1zM283 358h1v1h-1zM293 358h1v1h-1zM295 358h1v1h-1zM298 358h2v1h-2zM301 358h1v1h-1zM312 358h1v1h-1zM325 358h2v1h-2zM636 358h2v1h-2zM640 358h1v1h-1zM642 358h1v1h-1zM54 359h1v1h-1zM56 359h2v1h-2zM93 359h1v1h-1zM95 359h2v1h-2zM160 359h1v1h-1zM233 359h1v1h-1zM237 359h1v1h-1zM241 359h4v1h-4zM252 359h1v1h-1zM258 359h1v1h-1zM260 359h1v1h-1zM265 359h1v1h-1zM281 359h1v1h-1zM284 359h1v1h-1zM293 359h1v1h-1zM296 359h2v1h-2zM313 359h2v1h-2zM324 359h1v1h-1zM637 359h1v1h-1zM640 359h2v1h-2zM54 360h2v1h-2zM97 360h1v1h-1zM160 360h1v1h-1zM234 360h3v1h-3zM253 360h1v1h-1zM257 360h2v1h-2zM260 360h1v1h-1zM266 360h1v1h-1zM280 360h1v1h-1zM285 360h1v1h-1zM292 360h1v1h-1zM315 360h1v1h-1zM321 360h3v1h-3zM640 360h2v1h-2zM97 361h1v1h-1zM160 361h1v1h-1zM234 361h1v1h-1zM254 361h1v1h-1zM256 361h1v1h-1zM259 361h1v1h-1zM266 361h1v1h-1zM280 361h1v1h-1zM286 361h1v1h-1zM291 361h2v1h-2zM316 361h2v1h-2zM320 361h1v1h-1zM640 361h1v1h-1zM98 362h1v1h-1zM160 362h1v1h-1zM255 362h1v1h-1zM266 362h1v1h-1zM279 362h1v1h-1zM287 362h4v1h-4zM318 362h1v1h-1zM320 362h1v1h-1zM640 362h1v1h-1zM98 363h1v1h-1zM160 363h1v1h-1zM267 363h1v1h-1zM279 363h1v1h-1zM288 363h1v1h-1zM318 363h2v1h-2zM99 364h1v1h-1zM160 364h1v1h-1zM267 364h1v1h-1zM279 364h1v1h-1zM319 364h1v1h-1zM99 365h1v1h-1zM154 365h1v1h-1zM159 365h1v1h-1zM268 365h1v1h-1zM275 365h1v1h-1zM279 365h1v1h-1zM100 366h1v1h-1zM104 366h1v1h-1zM154 366h2v1h-2zM159 366h1v1h-1zM268 366h2v1h-2zM274 366h1v1h-1zM276 366h1v1h-1zM278 366h1v1h-1zM100 367h1v1h-1zM102 367h3v1h-3zM153 367h1v1h-1zM155 367h1v1h-1zM159 367h1v1h-1zM270 367h3v1h-3zM274 367h1v1h-1zM276 367h1v1h-1zM278 367h1v1h-1zM101 368h1v1h-1zM105 368h1v1h-1zM153 368h1v1h-1zM156 368h1v1h-1zM159 368h1v1h-1zM273 368h1v1h-1zM277 368h2v1h-2zM105 369h1v1h-1zM152 369h1v1h-1zM157 369h1v1h-1zM159 369h1v1h-1zM278 369h1v1h-1zM105 370h1v1h-1zM145 370h1v1h-1zM152 370h1v1h-1zM157 370h2v1h-2zM106 371h1v1h-1zM145 371h1v1h-1zM152 371h1v1h-1zM158 371h1v1h-1zM106 372h1v1h-1zM145 372h1v1h-1zM152 372h1v1h-1zM106 373h1v1h-1zM145 373h1v1h-1zM152 373h1v1h-1zM107 374h1v1h-1zM145 374h2v1h-2zM151 374h1v1h-1zM107 375h1v1h-1zM145 375h2v1h-2zM151 375h1v1h-1zM107 376h1v1h-1zM145 376h2v1h-2zM151 376h1v1h-1zM107 377h1v1h-1zM145 377h2v1h-2zM151 377h1v1h-1zM108 378h1v1h-1zM145 378h1v1h-1zM147 378h1v1h-1zM151 378h1v1h-1zM108 379h1v1h-1zM145 379h1v1h-1zM147 379h1v1h-1zM151 379h1v1h-1zM109 380h1v1h-1zM145 380h1v1h-1zM147 380h1v1h-1zM150 380h1v1h-1zM109 381h1v1h-1zM145 381h1v1h-1zM147 381h1v1h-1zM150 381h1v1h-1zM109 382h1v1h-1zM145 382h1v1h-1zM147 382h1v1h-1zM150 382h1v1h-1zM110 383h1v1h-1zM144 383h1v1h-1zM147 383h1v1h-1zM150 383h1v1h-1zM110 384h1v1h-1zM114 384h1v1h-1zM120 384h1v1h-1zM144 384h1v1h-1zM148 384h1v1h-1zM150 384h1v1h-1zM110 385h1v1h-1zM113 385h2v1h-2zM119 385h2v1h-2zM144 385h1v1h-1zM148 385h1v1h-1zM150 385h1v1h-1zM111 386h1v1h-1zM113 386h2v1h-2zM117 386h2v1h-2zM120 386h1v1h-1zM144 386h1v1h-1zM148 386h2v1h-2zM111 387h2v1h-2zM115 387h2v1h-2zM121 387h1v1h-1zM144 387h1v1h-1zM148 387h2v1h-2zM112 388h1v1h-1zM115 388h1v1h-1zM121 388h1v1h-1zM144 388h1v1h-1zM149 388h1v1h-1zM121 389h1v1h-1zM144 389h1v1h-1zM149 389h1v1h-1zM121 390h1v1h-1zM143 390h1v1h-1zM121 391h1v1h-1zM138 391h1v1h-1zM143 391h1v1h-1zM122 392h1v1h-1zM138 392h1v1h-1zM143 392h1v1h-1zM122 393h1v1h-1zM138 393h1v1h-1zM142 393h1v1h-1zM122 394h1v1h-1zM138 394h2v1h-2zM142 394h1v1h-1zM123 395h3v1h-3zM138 395h2v1h-2zM142 395h1v1h-1zM125 396h1v1h-1zM138 396h1v1h-1zM140 396h1v1h-1zM142 396h1v1h-1zM125 397h1v1h-1zM138 397h1v1h-1zM140 397h2v1h-2zM125 398h1v1h-1zM136 398h3v1h-3zM141 398h1v1h-1zM126 399h1v1h-1zM135 399h1v1h-1zM138 399h1v1h-1zM126 400h1v1h-1zM134 400h1v1h-1zM126 401h1v1h-1zM133 401h1v1h-1zM126 402h1v1h-1zM132 402h1v1h-1zM127 403h1v1h-1zM131 403h1v1h-1zM127 404h1v1h-1zM131 404h1v1h-1zM127 405h1v1h-1zM130 405h1v1h-1zM128 406h1v1h-1zM130 406h1v1h-1zM128 407h2v1h-2z"/><path fill="#00c000" d="M168 213h1v1h-1zM166 214h3v1h-3zM164 215h2v1h-2zM169 215h1v1h-1zM163 216h1v1h-1zM169 216h1v1h-1zM174 216h1v1h-1zM163 217h1v1h-1zM170 217h1v1h-1zM173 217h1v1h-1zM175 217h1v1h-1zM162 218h1v1h-1zM170 218h1v1h-1zM172 218h1v1h-1zM176 218h1v1h-1zM162 219h1v1h-1zM171 219h1v1h-1zM176 219h1v1h-1zM162 220h1v1h-1zM177 220h1v1h-1zM161 221h1v1h-1zM177 221h1v1h-1zM180 221h1v1h-1zM187 221h2v1h-2zM161 222h1v1h-1zM178 222h2v1h-2zM181 222h1v1h-1zM185 222h2v1h-2zM189 222h2v1h-2zM193 222h1v1h-1zM198 222h1v1h-1zM161 223h1v1h-1zM178 223h1v1h-1zM181 223h1v1h-1zM184 223h1v1h-1zM191 223h2v1h-2zM194 223h1v1h-1zM197 223h2v1h-2zM161 224h1v1h-1zM182 224h1v1h-1zM184 224h1v1h-1zM194 224h1v1h-1zM197 224h1v1h-1zM199 224h1v1h-1zM160 225h1v1h-1zM183 225h1v1h-1zM195 225h2v1h-2zM199 225h1v1h-1zM160 226h1v1h-1zM196 226h1v1h-1zM200 226h1v1h-1zM206 226h1v1h-1zM159 227h1v1h-1zM200 227h1v1h-1zM205 227h2v1h-2zM224 227h1v1h-1zM231 227h2v1h-2zM159 228h1v1h-1zM200 228h1v1h-1zM205 228h1v1h-1zM207 228h1v1h-1zM214 228h1v1h-1zM223 228h2v1h-2zM229 228h2v1h-2zM233 228h1v1h-1zM158 229h1v1h-1zM201 229h1v1h-1zM204 229h1v1h-1zM207 229h1v1h-1zM212 229h2v1h-2zM215 229h1v1h-1zM222 229h1v1h-1zM225 229h1v1h-1zM227 229h2v1h-2zM234 229h1v1h-1zM237 229h2v1h-2zM255 229h1v1h-1zM77 230h2v1h-2zM155 230h1v1h-1zM158 230h1v1h-1zM201 230h1v1h-1zM203 230h1v1h-1zM208 230h4v1h-4zM215 230h1v1h-1zM221 230h1v1h-1zM225 230h2v1h-2zM235 230h2v1h-2zM238 230h1v1h-1zM254 230h2v1h-2zM258 230h1v1h-1zM76 231h1v1h-1zM79 231h1v1h-1zM82 231h1v1h-1zM154 231h1v1h-1zM156 231h2v1h-2zM202 231h2v1h-2zM216 231h1v1h-1zM219 231h2v1h-2zM239 231h1v1h-1zM246 231h1v1h-1zM251 231h1v1h-1zM253 231h1v1h-1zM255 231h1v1h-1zM258 231h1v1h-1zM75 232h1v1h-1zM80 232h1v1h-1zM82 232h1v1h-1zM152 232h2v1h-2zM157 232h1v1h-1zM202 232h1v1h-1zM217 232h2v1h-2zM239 232h1v1h-1zM244 232h2v1h-2zM247 232h1v1h-1zM250 232h2v1h-2zM253 232h1v1h-1zM255 232h1v1h-1zM257 232h2v1h-2zM470 232h1v1h-1zM73 233h2v1h-2zM80 233h2v1h-2zM83 233h1v1h-1zM87 233h1v1h-1zM151 233h1v1h-1zM240 233h1v1h-1zM243 233h1v1h-1zM247 233h1v1h-1zM249 233h1v1h-1zM252 233h1v1h-1zM256 233h3v1h-3zM470 233h1v1h-1zM71 234h2v1h-2zM81 234h1v1h-1zM83 234h1v1h-1zM86 234h1v1h-1zM88 234h1v1h-1zM150 234h1v1h-1zM240 234h1v1h-1zM242 234h1v1h-1zM248 234h1v1h-1zM256 234h1v1h-1zM258 234h1v1h-1zM292 234h1v1h-1zM469 234h2v1h-2zM70 235h1v1h-1zM84 235h2v1h-2zM89 235h1v1h-1zM91 235h1v1h-1zM150 235h1v1h-1zM241 235h1v1h-1zM256 235h1v1h-1zM258 235h1v1h-1zM288 235h1v1h-1zM291 235h2v1h-2zM469 235h1v1h-1zM471 235h1v1h-1zM69 236h1v1h-1zM90 236h2v1h-2zM149 236h1v1h-1zM259 236h1v1h-1zM286 236h5v1h-5zM293 236h1v1h-1zM469 236h1v1h-1zM471 236h1v1h-1zM69 237h1v1h-1zM92 237h1v1h-1zM147 237h2v1h-2zM259 237h1v1h-1zM262 237h1v1h-1zM284 237h2v1h-2zM288 237h1v1h-1zM293 237h1v1h-1zM302 237h2v1h-2zM469 237h1v1h-1zM471 237h1v1h-1zM60 238h2v1h-2zM68 238h1v1h-1zM92 238h1v1h-1zM146 238h1v1h-1zM259 238h1v1h-1zM261 238h1v1h-1zM263 238h1v1h-1zM276 238h2v1h-2zM283 238h1v1h-1zM294 238h1v1h-1zM301 238h1v1h-1zM304 238h2v1h-2zM308 238h2v1h-2zM468 238h1v1h-1zM471 238h1v1h-1zM59 239h1v1h-1zM62 239h2v1h-2zM68 239h1v1h-1zM92 239h1v1h-1zM146 239h1v1h-1zM259 239h2v1h-2zM264 239h1v1h-1zM275 239h1v1h-1zM278 239h2v1h-2zM281 239h2v1h-2zM294 239h1v1h-1zM300 239h1v1h-1zM306 239h2v1h-2zM309 239h1v1h-1zM334 239h3v1h-3zM456 239h1v1h-1zM468 239h1v1h-1zM471 239h1v1h-1zM599 239h2v1h-2zM59 240h1v1h-1zM64 240h1v1h-1zM67 240h1v1h-1zM93 240h1v1h-1zM145 240h1v1h-1zM259 240h1v1h-1zM265 240h1v1h-1zM268 240h1v1h-1zM274 240h1v1h-1zM280 240h1v1h-1zM295 240h1v1h-1zM298 240h2v1h-2zM310 240h1v1h-1zM320 240h1v1h-1zM333 240h1v1h-1zM336 240h1v1h-1zM455 240h2v1h-2zM468 240h1v1h-1zM472 240h1v1h-1zM598 240h1v1h-1zM601 240h2v1h-2zM58 241h1v1h-1zM65 241h2v1h-2zM93 241h2v1h-2zM145 241h1v1h-1zM266 241h2v1h-2zM269 241h1v1h-1zM273 241h1v1h-1zM295 241h1v1h-1zM297 241h1v1h-1zM310 241h1v1h-1zM314 241h1v1h-1zM319 241h2v1h-2zM332 241h1v1h-1zM336 241h1v1h-1zM347 241h1v1h-1zM438 241h1v1h-1zM455 241h2v1h-2zM468 241h1v1h-1zM472 241h1v1h-1zM598 241h1v1h-1zM603 241h1v1h-1zM52 242h2v1h-2zM56 242h1v1h-1zM58 242h1v1h-1zM95 242h1v1h-1zM144 242h1v1h-1zM269 242h1v1h-1zM273 242h1v1h-1zM296 242h1v1h-1zM311 242h3v1h-3zM315 242h2v1h-2zM318 242h1v1h-1zM321 242h1v1h-1zM331 242h1v1h-1zM337 242h1v1h-1zM341 242h1v1h-1zM346 242h1v1h-1zM348 242h1v1h-1zM361 242h1v1h-1zM438 242h1v1h-1zM454 242h1v1h-1zM456 242h1v1h-1zM468 242h1v1h-1zM472 242h1v1h-1zM597 242h1v1h-1zM603 242h1v1h-1zM622 242h1v1h-1zM51 243h1v1h-1zM54 243h4v1h-4zM95 243h1v1h-1zM144 243h1v1h-1zM270 243h1v1h-1zM272 243h1v1h-1zM311 243h1v1h-1zM317 243h1v1h-1zM321 243h1v1h-1zM325 243h1v1h-1zM331 243h1v1h-1zM337 243h1v1h-1zM341 243h1v1h-1zM345 243h1v1h-1zM348 243h1v1h-1zM360 243h1v1h-1zM362 243h1v1h-1zM372 243h1v1h-1zM437 243h1v1h-1zM439 243h1v1h-1zM453 243h1v1h-1zM457 243h1v1h-1zM459 243h1v1h-1zM467 243h1v1h-1zM472 243h1v1h-1zM579 243h1v1h-1zM597 243h1v1h-1zM603 243h1v1h-1zM622 243h2v1h-2zM51 244h1v1h-1zM57 244h1v1h-1zM96 244h1v1h-1zM144 244h1v1h-1zM271 244h1v1h-1zM322 244h1v1h-1zM325 244h2v1h-2zM330 244h1v1h-1zM337 244h1v1h-1zM341 244h4v1h-4zM349 244h1v1h-1zM355 244h2v1h-2zM359 244h1v1h-1zM362 244h1v1h-1zM372 244h2v1h-2zM437 244h1v1h-1zM439 244h1v1h-1zM453 244h1v1h-1zM457 244h1v1h-1zM459 244h1v1h-1zM467 244h1v1h-1zM472 244h1v1h-1zM476 244h2v1h-2zM501 244h1v1h-1zM578 244h1v1h-1zM580 244h1v1h-1zM596 244h1v1h-1zM603 244h1v1h-1zM622 244h1v1h-1zM624 244h1v1h-1zM50 245h1v1h-1zM96 245h1v1h-1zM101 245h1v1h-1zM143 245h1v1h-1zM322 245h1v1h-1zM325 245h1v1h-1zM327 245h1v1h-1zM329 245h1v1h-1zM337 245h1v1h-1zM341 245h1v1h-1zM350 245h2v1h-2zM353 245h2v1h-2zM357 245h2v1h-2zM363 245h2v1h-2zM371 245h1v1h-1zM374 245h1v1h-1zM384 245h1v1h-1zM437 245h1v1h-1zM439 245h1v1h-1zM452 245h1v1h-1zM458 245h1v1h-1zM460 245h1v1h-1zM467 245h1v1h-1zM473 245h1v1h-1zM475 245h1v1h-1zM478 245h1v1h-1zM500 245h2v1h-2zM511 245h1v1h-1zM551 245h1v1h-1zM575 245h2v1h-2zM578 245h1v1h-1zM581 245h1v1h-1zM595 245h1v1h-1zM604 245h1v1h-1zM618 245h1v1h-1zM621 245h1v1h-1zM625 245h1v1h-1zM97 246h1v1h-1zM100 246h1v1h-1zM102 246h1v1h-1zM143 246h1v1h-1zM322 246h1v1h-1zM325 246h1v1h-1zM328 246h1v1h-1zM338 246h1v1h-1zM340 246h1v1h-1zM352 246h1v1h-1zM365 246h2v1h-2zM371 246h1v1h-1zM375 246h2v1h-2zM383 246h2v1h-2zM392 246h1v1h-1zM437 246h1v1h-1zM439 246h1v1h-1zM452 246h1v1h-1zM458 246h1v1h-1zM460 246h1v1h-1zM467 246h1v1h-1zM473 246h2v1h-2zM478 246h1v1h-1zM491 246h1v1h-1zM495 246h1v1h-1zM500 246h2v1h-2zM510 246h2v1h-2zM551 246h1v1h-1zM569 246h1v1h-1zM574 246h1v1h-1zM577 246h1v1h-1zM581 246h1v1h-1zM595 246h1v1h-1zM604 246h1v1h-1zM617 246h1v1h-1zM619 246h1v1h-1zM621 246h1v1h-1zM625 246h1v1h-1zM98 247h1v1h-1zM100 247h1v1h-1zM102 247h1v1h-1zM142 247h1v1h-1zM323 247h2v1h-2zM338 247h1v1h-1zM340 247h1v1h-1zM367 247h1v1h-1zM370 247h1v1h-1zM377 247h2v1h-2zM383 247h1v1h-1zM385 247h1v1h-1zM391 247h2v1h-2zM436 247h1v1h-1zM439 247h1v1h-1zM451 247h1v1h-1zM461 247h1v1h-1zM465 247h1v1h-1zM467 247h1v1h-1zM473 247h1v1h-1zM479 247h2v1h-2zM486 247h1v1h-1zM490 247h1v1h-1zM492 247h1v1h-1zM494 247h2v1h-2zM499 247h1v1h-1zM502 247h1v1h-1zM509 247h1v1h-1zM512 247h1v1h-1zM551 247h2v1h-2zM569 247h3v1h-3zM574 247h1v1h-1zM581 247h1v1h-1zM594 247h1v1h-1zM604 247h1v1h-1zM612 247h1v1h-1zM616 247h1v1h-1zM620 247h2v1h-2zM626 247h1v1h-1zM670 247h1v1h-1zM98 248h2v1h-2zM103 248h1v1h-1zM139 248h1v1h-1zM141 248h1v1h-1zM323 248h2v1h-2zM339 248h2v1h-2zM367 248h1v1h-1zM370 248h1v1h-1zM379 248h1v1h-1zM382 248h1v1h-1zM385 248h1v1h-1zM391 248h1v1h-1zM393 248h1v1h-1zM410 248h1v1h-1zM436 248h1v1h-1zM439 248h1v1h-1zM451 248h1v1h-1zM461 248h1v1h-1zM465 248h2v1h-2zM481 248h1v1h-1zM485 248h2v1h-2zM490 248h1v1h-1zM493 248h1v1h-1zM496 248h1v1h-1zM498 248h1v1h-1zM502 248h1v1h-1zM505 248h1v1h-1zM509 248h1v1h-1zM512 248h1v1h-1zM551 248h2v1h-2zM568 248h1v1h-1zM572 248h2v1h-2zM581 248h1v1h-1zM588 248h2v1h-2zM594 248h1v1h-1zM604 248h1v1h-1zM612 248h2v1h-2zM615 248h1v1h-1zM621 248h1v1h-1zM627 248h1v1h-1zM646 248h6v1h-6zM670 248h2v1h-2zM99 249h1v1h-1zM104 249h1v1h-1zM107 249h1v1h-1zM138 249h1v1h-1zM140 249h1v1h-1zM324 249h1v1h-1zM340 249h1v1h-1zM368 249h1v1h-1zM370 249h1v1h-1zM380 249h1v1h-1zM382 249h1v1h-1zM386 249h1v1h-1zM390 249h1v1h-1zM393 249h1v1h-1zM398 249h2v1h-2zM407 249h4v1h-4zM436 249h1v1h-1zM439 249h1v1h-1zM450 249h1v1h-1zM462 249h1v1h-1zM464 249h1v1h-1zM466 249h1v1h-1zM481 249h1v1h-1zM484 249h1v1h-1zM487 249h1v1h-1zM489 249h1v1h-1zM496 249h1v1h-1zM498 249h1v1h-1zM502 249h1v1h-1zM505 249h2v1h-2zM508 249h1v1h-1zM513 249h1v1h-1zM551 249h1v1h-1zM553 249h1v1h-1zM568 249h1v1h-1zM573 249h1v1h-1zM582 249h1v1h-1zM587 249h1v1h-1zM590 249h1v1h-1zM593 249h1v1h-1zM604 249h1v1h-1zM612 249h1v1h-1zM614 249h1v1h-1zM628 249h1v1h-1zM645 249h1v1h-1zM651 249h1v1h-1zM669 249h1v1h-1zM671 249h1v1h-1zM105 250h3v1h-3zM137 250h1v1h-1zM324 250h1v1h-1zM368 250h2v1h-2zM381 250h1v1h-1zM386 250h2v1h-2zM390 250h1v1h-1zM394 250h1v1h-1zM397 250h1v1h-1zM400 250h7v1h-7zM411 250h1v1h-1zM431 250h1v1h-1zM435 250h1v1h-1zM439 250h1v1h-1zM445 250h5v1h-5zM462 250h1v1h-1zM464 250h1v1h-1zM482 250h1v1h-1zM484 250h1v1h-1zM487 250h1v1h-1zM489 250h1v1h-1zM497 250h1v1h-1zM503 250h1v1h-1zM505 250h1v1h-1zM507 250h1v1h-1zM513 250h1v1h-1zM530 250h1v1h-1zM550 250h1v1h-1zM553 250h1v1h-1zM568 250h1v1h-1zM582 250h1v1h-1zM586 250h1v1h-1zM591 250h1v1h-1zM593 250h1v1h-1zM604 250h1v1h-1zM612 250h1v1h-1zM628 250h1v1h-1zM644 250h1v1h-1zM652 250h1v1h-1zM669 250h1v1h-1zM672 250h1v1h-1zM674 250h1v1h-1zM720 250h1v1h-1zM763 250h1v1h-1zM108 251h1v1h-1zM135 251h2v1h-2zM369 251h1v1h-1zM388 251h2v1h-2zM394 251h1v1h-1zM396 251h1v1h-1zM411 251h1v1h-1zM430 251h2v1h-2zM435 251h1v1h-1zM439 251h1v1h-1zM444 251h1v1h-1zM463 251h1v1h-1zM482 251h2v1h-2zM488 251h1v1h-1zM503 251h2v1h-2zM514 251h1v1h-1zM529 251h1v1h-1zM531 251h1v1h-1zM550 251h1v1h-1zM553 251h1v1h-1zM555 251h2v1h-2zM567 251h1v1h-1zM582 251h2v1h-2zM586 251h1v1h-1zM592 251h1v1h-1zM605 251h1v1h-1zM608 251h1v1h-1zM611 251h1v1h-1zM629 251h1v1h-1zM644 251h1v1h-1zM652 251h1v1h-1zM654 251h1v1h-1zM668 251h1v1h-1zM673 251h1v1h-1zM675 251h1v1h-1zM719 251h1v1h-1zM721 251h1v1h-1zM762 251h1v1h-1zM764 251h1v1h-1zM988 251h1v1h-1zM108 252h1v1h-1zM134 252h1v1h-1zM395 252h2v1h-2zM412 252h1v1h-1zM429 252h1v1h-1zM432 252h1v1h-1zM434 252h1v1h-1zM440 252h1v1h-1zM444 252h1v1h-1zM463 252h1v1h-1zM483 252h1v1h-1zM488 252h1v1h-1zM503 252h2v1h-2zM515 252h3v1h-3zM520 252h3v1h-3zM529 252h1v1h-1zM531 252h1v1h-1zM550 252h1v1h-1zM553 252h1v1h-1zM555 252h1v1h-1zM557 252h1v1h-1zM567 252h1v1h-1zM584 252h2v1h-2zM605 252h3v1h-3zM609 252h1v1h-1zM611 252h1v1h-1zM629 252h1v1h-1zM644 252h1v1h-1zM652 252h1v1h-1zM654 252h1v1h-1zM668 252h1v1h-1zM676 252h2v1h-2zM708 252h2v1h-2zM719 252h1v1h-1zM722 252h1v1h-1zM762 252h1v1h-1zM765 252h1v1h-1zM988 252h1v1h-1zM109 253h1v1h-1zM132 253h2v1h-2zM395 253h1v1h-1zM412 253h1v1h-1zM428 253h1v1h-1zM432 253h1v1h-1zM434 253h1v1h-1zM440 253h1v1h-1zM443 253h1v1h-1zM504 253h1v1h-1zM518 253h1v1h-1zM520 253h1v1h-1zM523 253h6v1h-6zM532 253h1v1h-1zM550 253h1v1h-1zM553 253h1v1h-1zM555 253h1v1h-1zM557 253h1v1h-1zM567 253h1v1h-1zM605 253h1v1h-1zM609 253h1v1h-1zM611 253h1v1h-1zM630 253h1v1h-1zM643 253h1v1h-1zM652 253h2v1h-2zM655 253h1v1h-1zM661 253h1v1h-1zM668 253h1v1h-1zM678 253h2v1h-2zM708 253h1v1h-1zM710 253h1v1h-1zM718 253h1v1h-1zM722 253h1v1h-1zM734 253h1v1h-1zM739 253h1v1h-1zM761 253h1v1h-1zM766 253h1v1h-1zM987 253h1v1h-1zM989 253h1v1h-1zM109 254h2v1h-2zM131 254h1v1h-1zM413 254h2v1h-2zM427 254h1v1h-1zM432 254h1v1h-1zM434 254h1v1h-1zM440 254h1v1h-1zM442 254h1v1h-1zM504 254h1v1h-1zM518 254h2v1h-2zM533 254h1v1h-1zM549 254h2v1h-2zM554 254h1v1h-1zM557 254h1v1h-1zM566 254h1v1h-1zM610 254h2v1h-2zM630 254h1v1h-1zM634 254h2v1h-2zM643 254h1v1h-1zM653 254h1v1h-1zM655 254h1v1h-1zM660 254h2v1h-2zM667 254h1v1h-1zM680 254h2v1h-2zM691 254h1v1h-1zM708 254h1v1h-1zM711 254h1v1h-1zM718 254h1v1h-1zM723 254h1v1h-1zM732 254h2v1h-2zM735 254h1v1h-1zM737 254h2v1h-2zM740 254h1v1h-1zM761 254h1v1h-1zM766 254h1v1h-1zM772 254h2v1h-2zM836 254h2v1h-2zM987 254h1v1h-1zM989 254h1v1h-1zM111 255h1v1h-1zM119 255h1v1h-1zM131 255h1v1h-1zM415 255h2v1h-2zM425 255h2v1h-2zM433 255h1v1h-1zM440 255h2v1h-2zM519 255h1v1h-1zM533 255h1v1h-1zM540 255h1v1h-1zM548 255h1v1h-1zM554 255h1v1h-1zM558 255h1v1h-1zM566 255h1v1h-1zM611 255h1v1h-1zM631 255h3v1h-3zM636 255h1v1h-1zM643 255h1v1h-1zM653 255h1v1h-1zM656 255h1v1h-1zM660 255h1v1h-1zM662 255h1v1h-1zM667 255h1v1h-1zM682 255h1v1h-1zM690 255h2v1h-2zM695 255h2v1h-2zM707 255h1v1h-1zM711 255h1v1h-1zM717 255h1v1h-1zM724 255h1v1h-1zM732 255h1v1h-1zM736 255h1v1h-1zM740 255h1v1h-1zM746 255h1v1h-1zM752 255h4v1h-4zM761 255h1v1h-1zM767 255h1v1h-1zM770 255h2v1h-2zM774 255h2v1h-2zM834 255h2v1h-2zM838 255h1v1h-1zM986 255h1v1h-1zM990 255h1v1h-1zM992 255h1v1h-1zM112 256h1v1h-1zM119 256h1v1h-1zM130 256h1v1h-1zM417 256h1v1h-1zM420 256h5v1h-5zM433 256h1v1h-1zM440 256h1v1h-1zM534 256h2v1h-2zM538 256h2v1h-2zM541 256h1v1h-1zM547 256h1v1h-1zM554 256h1v1h-1zM558 256h1v1h-1zM566 256h1v1h-1zM631 256h1v1h-1zM636 256h1v1h-1zM640 256h1v1h-1zM643 256h1v1h-1zM656 256h1v1h-1zM659 256h1v1h-1zM662 256h1v1h-1zM666 256h1v1h-1zM683 256h4v1h-4zM690 256h1v1h-1zM692 256h1v1h-1zM694 256h1v1h-1zM697 256h2v1h-2zM707 256h1v1h-1zM712 256h1v1h-1zM717 256h1v1h-1zM725 256h1v1h-1zM731 256h1v1h-1zM741 256h1v1h-1zM745 256h1v1h-1zM747 256h1v1h-1zM751 256h1v1h-1zM756 256h1v1h-1zM760 256h1v1h-1zM767 256h1v1h-1zM770 256h1v1h-1zM776 256h1v1h-1zM803 256h4v1h-4zM832 256h2v1h-2zM838 256h1v1h-1zM854 256h1v1h-1zM907 256h1v1h-1zM986 256h1v1h-1zM990 256h3v1h-3zM112 257h1v1h-1zM118 257h1v1h-1zM120 257h1v1h-1zM130 257h1v1h-1zM417 257h1v1h-1zM420 257h1v1h-1zM440 257h1v1h-1zM536 257h2v1h-2zM542 257h1v1h-1zM546 257h1v1h-1zM554 257h1v1h-1zM558 257h1v1h-1zM566 257h1v1h-1zM637 257h1v1h-1zM639 257h1v1h-1zM641 257h2v1h-2zM657 257h2v1h-2zM663 257h1v1h-1zM665 257h2v1h-2zM687 257h1v1h-1zM689 257h1v1h-1zM692 257h1v1h-1zM694 257h1v1h-1zM699 257h2v1h-2zM707 257h1v1h-1zM713 257h1v1h-1zM716 257h1v1h-1zM725 257h1v1h-1zM731 257h1v1h-1zM741 257h1v1h-1zM744 257h2v1h-2zM748 257h1v1h-1zM750 257h1v1h-1zM757 257h1v1h-1zM760 257h1v1h-1zM768 257h2v1h-2zM777 257h2v1h-2zM780 257h1v1h-1zM803 257h1v1h-1zM807 257h1v1h-1zM817 257h1v1h-1zM831 257h1v1h-1zM839 257h1v1h-1zM843 257h1v1h-1zM848 257h1v1h-1zM853 257h2v1h-2zM906 257h2v1h-2zM971 257h1v1h-1zM986 257h1v1h-1zM993 257h1v1h-1zM113 258h1v1h-1zM118 258h1v1h-1zM120 258h1v1h-1zM129 258h1v1h-1zM418 258h2v1h-2zM440 258h1v1h-1zM543 258h1v1h-1zM545 258h1v1h-1zM558 258h1v1h-1zM565 258h1v1h-1zM637 258h1v1h-1zM639 258h1v1h-1zM641 258h2v1h-2zM663 258h2v1h-2zM687 258h1v1h-1zM689 258h1v1h-1zM693 258h1v1h-1zM701 258h1v1h-1zM707 258h1v1h-1zM714 258h1v1h-1zM716 258h1v1h-1zM726 258h1v1h-1zM730 258h1v1h-1zM742 258h2v1h-2zM749 258h1v1h-1zM758 258h1v1h-1zM760 258h1v1h-1zM768 258h2v1h-2zM779 258h1v1h-1zM781 258h1v1h-1zM802 258h1v1h-1zM808 258h1v1h-1zM816 258h1v1h-1zM818 258h1v1h-1zM822 258h3v1h-3zM830 258h1v1h-1zM840 258h1v1h-1zM842 258h1v1h-1zM844 258h1v1h-1zM846 258h2v1h-2zM849 258h1v1h-1zM852 258h1v1h-1zM855 258h1v1h-1zM864 258h3v1h-3zM903 258h4v1h-4zM908 258h1v1h-1zM910 258h1v1h-1zM918 258h1v1h-1zM970 258h2v1h-2zM985 258h1v1h-1zM993 258h1v1h-1zM113 259h1v1h-1zM117 259h1v1h-1zM121 259h1v1h-1zM129 259h1v1h-1zM418 259h2v1h-2zM440 259h1v1h-1zM544 259h1v1h-1zM559 259h1v1h-1zM565 259h1v1h-1zM638 259h1v1h-1zM642 259h1v1h-1zM688 259h1v1h-1zM702 259h1v1h-1zM706 259h1v1h-1zM714 259h2v1h-2zM727 259h1v1h-1zM730 259h1v1h-1zM758 259h2v1h-2zM768 259h1v1h-1zM782 259h2v1h-2zM802 259h1v1h-1zM809 259h1v1h-1zM813 259h1v1h-1zM815 259h1v1h-1zM819 259h1v1h-1zM821 259h1v1h-1zM825 259h2v1h-2zM830 259h1v1h-1zM841 259h1v1h-1zM845 259h1v1h-1zM850 259h1v1h-1zM852 259h1v1h-1zM855 259h9v1h-9zM867 259h4v1h-4zM880 259h2v1h-2zM896 259h1v1h-1zM902 259h1v1h-1zM908 259h2v1h-2zM911 259h1v1h-1zM917 259h1v1h-1zM919 259h1v1h-1zM970 259h1v1h-1zM972 259h1v1h-1zM977 259h1v1h-1zM984 259h2v1h-2zM994 259h1v1h-1zM114 260h1v1h-1zM117 260h1v1h-1zM121 260h1v1h-1zM129 260h1v1h-1zM419 260h1v1h-1zM559 260h1v1h-1zM565 260h1v1h-1zM638 260h1v1h-1zM702 260h1v1h-1zM706 260h1v1h-1zM715 260h1v1h-1zM728 260h1v1h-1zM730 260h1v1h-1zM759 260h1v1h-1zM768 260h1v1h-1zM784 260h1v1h-1zM789 260h2v1h-2zM802 260h1v1h-1zM810 260h1v1h-1zM812 260h1v1h-1zM814 260h1v1h-1zM820 260h1v1h-1zM827 260h1v1h-1zM829 260h1v1h-1zM851 260h1v1h-1zM871 260h2v1h-2zM879 260h1v1h-1zM882 260h2v1h-2zM894 260h2v1h-2zM897 260h1v1h-1zM901 260h1v1h-1zM909 260h1v1h-1zM912 260h1v1h-1zM916 260h1v1h-1zM919 260h1v1h-1zM923 260h1v1h-1zM928 260h2v1h-2zM944 260h1v1h-1zM956 260h2v1h-2zM969 260h1v1h-1zM972 260h1v1h-1zM977 260h1v1h-1zM982 260h2v1h-2zM994 260h1v1h-1zM114 261h1v1h-1zM117 261h1v1h-1zM122 261h1v1h-1zM127 261h2v1h-2zM559 261h1v1h-1zM564 261h1v1h-1zM703 261h1v1h-1zM706 261h1v1h-1zM728 261h2v1h-2zM785 261h1v1h-1zM787 261h2v1h-2zM791 261h1v1h-1zM795 261h2v1h-2zM801 261h1v1h-1zM811 261h1v1h-1zM827 261h1v1h-1zM829 261h1v1h-1zM873 261h1v1h-1zM879 261h1v1h-1zM883 261h1v1h-1zM890 261h4v1h-4zM898 261h2v1h-2zM901 261h1v1h-1zM912 261h1v1h-1zM916 261h1v1h-1zM920 261h1v1h-1zM922 261h1v1h-1zM924 261h2v1h-2zM927 261h1v1h-1zM930 261h3v1h-3zM942 261h3v1h-3zM955 261h1v1h-1zM958 261h1v1h-1zM969 261h1v1h-1zM972 261h1v1h-1zM976 261h1v1h-1zM978 261h1v1h-1zM981 261h1v1h-1zM995 261h1v1h-1zM1005 261h1v1h-1zM114 262h1v1h-1zM116 262h1v1h-1zM122 262h1v1h-1zM126 262h1v1h-1zM128 262h1v1h-1zM559 262h1v1h-1zM564 262h1v1h-1zM703 262h1v1h-1zM706 262h1v1h-1zM729 262h1v1h-1zM786 262h1v1h-1zM792 262h1v1h-1zM794 262h1v1h-1zM797 262h1v1h-1zM801 262h1v1h-1zM828 262h1v1h-1zM874 262h1v1h-1zM878 262h1v1h-1zM883 262h1v1h-1zM890 262h1v1h-1zM900 262h1v1h-1zM913 262h1v1h-1zM915 262h1v1h-1zM920 262h1v1h-1zM922 262h1v1h-1zM926 262h1v1h-1zM933 262h1v1h-1zM940 262h2v1h-2zM944 262h1v1h-1zM954 262h1v1h-1zM958 262h1v1h-1zM968 262h1v1h-1zM973 262h1v1h-1zM976 262h1v1h-1zM978 262h1v1h-1zM980 262h1v1h-1zM995 262h1v1h-1zM1004 262h1v1h-1zM114 263h1v1h-1zM116 263h1v1h-1zM123 263h1v1h-1zM126 263h1v1h-1zM560 263h1v1h-1zM562 263h2v1h-2zM704 263h2v1h-2zM793 263h1v1h-1zM798 263h1v1h-1zM801 263h1v1h-1zM874 263h1v1h-1zM877 263h1v1h-1zM884 263h1v1h-1zM886 263h1v1h-1zM889 263h1v1h-1zM914 263h1v1h-1zM921 263h1v1h-1zM933 263h1v1h-1zM939 263h1v1h-1zM944 263h1v1h-1zM953 263h1v1h-1zM958 263h1v1h-1zM968 263h1v1h-1zM973 263h1v1h-1zM975 263h1v1h-1zM979 263h1v1h-1zM996 263h1v1h-1zM1002 263h2v1h-2zM115 264h2v1h-2zM123 264h1v1h-1zM125 264h1v1h-1zM560 264h2v1h-2zM704 264h2v1h-2zM799 264h2v1h-2zM875 264h1v1h-1zM877 264h1v1h-1zM884 264h1v1h-1zM886 264h2v1h-2zM889 264h1v1h-1zM933 264h1v1h-1zM939 264h1v1h-1zM944 264h1v1h-1zM952 264h1v1h-1zM959 264h1v1h-1zM963 264h1v1h-1zM967 264h1v1h-1zM973 264h1v1h-1zM975 264h1v1h-1zM996 264h1v1h-1zM1001 264h1v1h-1zM115 265h1v1h-1zM123 265h1v1h-1zM125 265h1v1h-1zM705 265h1v1h-1zM800 265h1v1h-1zM876 265h1v1h-1zM884 265h1v1h-1zM886 265h1v1h-1zM888 265h1v1h-1zM933 265h1v1h-1zM938 265h1v1h-1zM945 265h1v1h-1zM952 265h1v1h-1zM959 265h1v1h-1zM962 265h1v1h-1zM964 265h1v1h-1zM966 265h1v1h-1zM974 265h1v1h-1zM997 265h1v1h-1zM1000 265h1v1h-1zM115 266h1v1h-1zM124 266h1v1h-1zM884 266h2v1h-2zM888 266h1v1h-1zM933 266h1v1h-1zM938 266h1v1h-1zM945 266h1v1h-1zM951 266h1v1h-1zM959 266h3v1h-3zM965 266h1v1h-1zM974 266h1v1h-1zM997 266h1v1h-1zM999 266h1v1h-1zM124 267h1v1h-1zM885 267h1v1h-1zM934 267h1v1h-1zM937 267h1v1h-1zM945 267h1v1h-1zM950 267h1v1h-1zM998 267h2v1h-2zM885 268h1v1h-1zM934 268h1v1h-1zM937 268h1v1h-1zM945 268h3v1h-3zM950 268h1v1h-1zM998 268h1v1h-1zM885 269h1v1h-1zM934 269h1v1h-1zM936 269h1v1h-1zM948 269h2v1h-2zM934 270h2v1h-2z"/><path fill="#0080ff" d="M737 108h1v1h-1zM737 109h1v1h-1zM737 110h1v1h-1zM737 111h1v1h-1zM737 112h1v1h-1zM737 113h1v1h-1zM737 114h1v1h-1zM737 115h1v1h-1zM737 116h1v1h-1zM737 117h1v1h-1zM737 118h1v1h-1zM737 119h1v1h-1zM737 120h1v1h-1zM737 121h1v1h-1zM737 122h1v1h-1zM737 123h1v1h-1zM737 124h1v1h-1zM737 125h1v1h-1zM737 126h1v1h-1zM737 127h1v1h-1zM737 128h1v1h-1zM737 129h1v1h-1zM737 130h2v1h-2zM737 131h2v1h-2zM737 132h2v1h-2zM737 133h2v1h-2zM737 134h2v1h-2zM737 135h2v1h-2zM737 136h2v1h-2zM737 137h2v1h-2zM737 138h2v1h-2zM737 139h2v1h-2zM737 140h2v1h-2zM737 141h2v1h-2zM737 142h2v1h-2zM737 143h2v1h-2zM170 144h1v1h-1zM737 144h2v1h-2zM170 145h1v1h-1zM181 145h1v1h-1zM737 145h2v1h-2zM169 146h2v1h-2zM180 146h1v1h-1zM182 146h1v1h-1zM737 146h2v1h-2zM169 147h1v1h-1zM171 147h1v1h-1zM180 147h1v1h-1zM182 147h1v1h-1zM737 147h2v1h-2zM163 148h1v1h-1zM168 148h1v1h-1zM171 148h1v1h-1zM179 148h1v1h-1zM183 148h1v1h-1zM736 148h1v1h-1zM738 148h1v1h-1zM163 149h2v1h-2zM168 149h1v1h-1zM171 149h1v1h-1zM176 149h1v1h-1zM179 149h1v1h-1zM183 149h1v1h-1zM736 149h1v1h-1zM738 149h1v1h-1zM162 150h1v1h-1zM164 150h1v1h-1zM168 150h1v1h-1zM171 150h1v1h-1zM175 150h2v1h-2zM178 150h1v1h-1zM184 150h4v1h-4zM736 150h1v1h-1zM738 150h1v1h-1zM162 151h1v1h-1zM165 151h4v1h-4zM172 151h1v1h-1zM174 151h1v1h-1zM177 151h1v1h-1zM188 151h1v1h-1zM736 151h1v1h-1zM738 151h1v1h-1zM162 152h1v1h-1zM172 152h2v1h-2zM189 152h1v1h-1zM196 152h2v1h-2zM736 152h1v1h-1zM738 152h1v1h-1zM161 153h1v1h-1zM172 153h1v1h-1zM189 153h1v1h-1zM195 153h1v1h-1zM198 153h1v1h-1zM736 153h1v1h-1zM738 153h1v1h-1zM161 154h1v1h-1zM189 154h1v1h-1zM195 154h1v1h-1zM199 154h1v1h-1zM736 154h1v1h-1zM738 154h1v1h-1zM159 155h1v1h-1zM161 155h1v1h-1zM190 155h1v1h-1zM192 155h3v1h-3zM200 155h2v1h-2zM215 155h1v1h-1zM736 155h1v1h-1zM738 155h1v1h-1zM158 156h3v1h-3zM190 156h2v1h-2zM202 156h2v1h-2zM207 156h2v1h-2zM214 156h1v1h-1zM216 156h1v1h-1zM736 156h1v1h-1zM738 156h1v1h-1zM158 157h1v1h-1zM160 157h1v1h-1zM203 157h1v1h-1zM206 157h1v1h-1zM209 157h2v1h-2zM214 157h1v1h-1zM217 157h1v1h-1zM736 157h1v1h-1zM738 157h1v1h-1zM77 158h5v1h-5zM157 158h1v1h-1zM203 158h1v1h-1zM206 158h1v1h-1zM211 158h3v1h-3zM218 158h2v1h-2zM232 158h1v1h-1zM245 158h1v1h-1zM736 158h1v1h-1zM738 158h1v1h-1zM76 159h1v1h-1zM82 159h1v1h-1zM151 159h2v1h-2zM156 159h1v1h-1zM203 159h1v1h-1zM205 159h1v1h-1zM213 159h1v1h-1zM220 159h2v1h-2zM231 159h1v1h-1zM233 159h2v1h-2zM241 159h1v1h-1zM245 159h1v1h-1zM264 159h2v1h-2zM272 159h1v1h-1zM736 159h1v1h-1zM738 159h1v1h-1zM73 160h2v1h-2zM76 160h1v1h-1zM83 160h1v1h-1zM150 160h1v1h-1zM153 160h2v1h-2zM156 160h1v1h-1zM204 160h2v1h-2zM222 160h1v1h-1zM230 160h1v1h-1zM235 160h2v1h-2zM240 160h2v1h-2zM244 160h1v1h-1zM246 160h1v1h-1zM254 160h1v1h-1zM263 160h1v1h-1zM266 160h1v1h-1zM271 160h1v1h-1zM273 160h1v1h-1zM291 160h1v1h-1zM736 160h1v1h-1zM738 160h1v1h-1zM73 161h1v1h-1zM75 161h1v1h-1zM83 161h1v1h-1zM150 161h1v1h-1zM155 161h1v1h-1zM204 161h1v1h-1zM222 161h1v1h-1zM229 161h1v1h-1zM237 161h1v1h-1zM240 161h1v1h-1zM242 161h1v1h-1zM244 161h1v1h-1zM246 161h1v1h-1zM249 161h1v1h-1zM252 161h3v1h-3zM263 161h1v1h-1zM267 161h1v1h-1zM271 161h1v1h-1zM273 161h1v1h-1zM289 161h3v1h-3zM309 161h1v1h-1zM736 161h1v1h-1zM738 161h1v1h-1zM72 162h1v1h-1zM83 162h1v1h-1zM149 162h1v1h-1zM204 162h1v1h-1zM223 162h1v1h-1zM227 162h2v1h-2zM237 162h1v1h-1zM239 162h1v1h-1zM242 162h1v1h-1zM244 162h1v1h-1zM246 162h1v1h-1zM248 162h2v1h-2zM251 162h1v1h-1zM254 162h1v1h-1zM262 162h1v1h-1zM267 162h1v1h-1zM270 162h1v1h-1zM274 162h1v1h-1zM281 162h1v1h-1zM288 162h1v1h-1zM291 162h1v1h-1zM309 162h1v1h-1zM412 162h1v1h-1zM736 162h1v1h-1zM738 162h1v1h-1zM72 163h1v1h-1zM84 163h1v1h-1zM149 163h1v1h-1zM224 163h3v1h-3zM237 163h1v1h-1zM239 163h1v1h-1zM243 163h1v1h-1zM247 163h2v1h-2zM250 163h1v1h-1zM254 163h1v1h-1zM261 163h1v1h-1zM268 163h1v1h-1zM270 163h1v1h-1zM274 163h1v1h-1zM280 163h1v1h-1zM282 163h1v1h-1zM288 163h1v1h-1zM292 163h1v1h-1zM308 163h1v1h-1zM310 163h1v1h-1zM364 163h1v1h-1zM412 163h1v1h-1zM736 163h1v1h-1zM738 163h1v1h-1zM1000 163h1v1h-1zM71 164h1v1h-1zM84 164h1v1h-1zM148 164h1v1h-1zM238 164h1v1h-1zM243 164h1v1h-1zM247 164h1v1h-1zM254 164h1v1h-1zM260 164h1v1h-1zM268 164h2v1h-2zM275 164h1v1h-1zM280 164h1v1h-1zM282 164h1v1h-1zM287 164h1v1h-1zM292 164h1v1h-1zM308 164h1v1h-1zM310 164h1v1h-1zM363 164h2v1h-2zM400 164h2v1h-2zM411 164h2v1h-2zM736 164h1v1h-1zM738 164h1v1h-1zM1000 164h1v1h-1zM71 165h1v1h-1zM84 165h7v1h-7zM145 165h1v1h-1zM148 165h1v1h-1zM238 165h1v1h-1zM255 165h1v1h-1zM257 165h2v1h-2zM260 165h1v1h-1zM269 165h1v1h-1zM275 165h1v1h-1zM279 165h1v1h-1zM283 165h1v1h-1zM287 165h1v1h-1zM292 165h1v1h-1zM299 165h2v1h-2zM303 165h1v1h-1zM308 165h1v1h-1zM311 165h1v1h-1zM355 165h1v1h-1zM359 165h2v1h-2zM363 165h1v1h-1zM365 165h1v1h-1zM399 165h1v1h-1zM402 165h1v1h-1zM411 165h2v1h-2zM736 165h1v1h-1zM738 165h1v1h-1zM999 165h1v1h-1zM1001 165h1v1h-1zM71 166h1v1h-1zM91 166h1v1h-1zM145 166h3v1h-3zM255 166h2v1h-2zM259 166h1v1h-1zM276 166h1v1h-1zM278 166h1v1h-1zM283 166h1v1h-1zM286 166h1v1h-1zM292 166h1v1h-1zM298 166h1v1h-1zM301 166h2v1h-2zM304 166h1v1h-1zM307 166h1v1h-1zM311 166h1v1h-1zM340 166h1v1h-1zM353 166h2v1h-2zM356 166h1v1h-1zM358 166h1v1h-1zM361 166h2v1h-2zM365 166h1v1h-1zM369 166h1v1h-1zM398 166h1v1h-1zM402 166h1v1h-1zM411 166h2v1h-2zM736 166h1v1h-1zM738 166h1v1h-1zM989 166h1v1h-1zM999 166h1v1h-1zM1001 166h1v1h-1zM56 167h3v1h-3zM61 167h1v1h-1zM70 167h1v1h-1zM92 167h1v1h-1zM144 167h1v1h-1zM147 167h1v1h-1zM255 167h2v1h-2zM276 167h1v1h-1zM278 167h1v1h-1zM284 167h1v1h-1zM286 167h1v1h-1zM293 167h1v1h-1zM298 167h1v1h-1zM304 167h1v1h-1zM307 167h1v1h-1zM312 167h1v1h-1zM339 167h1v1h-1zM341 167h1v1h-1zM351 167h2v1h-2zM357 167h1v1h-1zM366 167h1v1h-1zM368 167h1v1h-1zM370 167h1v1h-1zM395 167h1v1h-1zM398 167h1v1h-1zM402 167h1v1h-1zM408 167h3v1h-3zM412 167h1v1h-1zM436 167h1v1h-1zM736 167h1v1h-1zM738 167h1v1h-1zM988 167h1v1h-1zM990 167h1v1h-1zM999 167h1v1h-1zM1001 167h1v1h-1zM50 168h1v1h-1zM54 168h2v1h-2zM59 168h3v1h-3zM70 168h1v1h-1zM93 168h1v1h-1zM144 168h1v1h-1zM255 168h1v1h-1zM277 168h1v1h-1zM284 168h2v1h-2zM293 168h1v1h-1zM297 168h1v1h-1zM305 168h1v1h-1zM307 168h1v1h-1zM312 168h1v1h-1zM317 168h1v1h-1zM327 168h1v1h-1zM339 168h1v1h-1zM341 168h1v1h-1zM348 168h1v1h-1zM351 168h1v1h-1zM366 168h1v1h-1zM368 168h1v1h-1zM370 168h1v1h-1zM384 168h2v1h-2zM394 168h2v1h-2zM397 168h1v1h-1zM403 168h1v1h-1zM407 168h1v1h-1zM410 168h1v1h-1zM413 168h1v1h-1zM436 168h1v1h-1zM458 168h1v1h-1zM736 168h1v1h-1zM738 168h1v1h-1zM986 168h2v1h-2zM991 168h1v1h-1zM998 168h1v1h-1zM1002 168h1v1h-1zM51 169h1v1h-1zM53 169h1v1h-1zM62 169h1v1h-1zM69 169h1v1h-1zM94 169h1v1h-1zM144 169h1v1h-1zM285 169h1v1h-1zM294 169h1v1h-1zM297 169h1v1h-1zM305 169h2v1h-2zM313 169h2v1h-2zM316 169h1v1h-1zM318 169h2v1h-2zM327 169h1v1h-1zM334 169h1v1h-1zM338 169h1v1h-1zM342 169h1v1h-1zM347 169h2v1h-2zM351 169h1v1h-1zM367 169h1v1h-1zM371 169h1v1h-1zM381 169h3v1h-3zM385 169h1v1h-1zM393 169h1v1h-1zM395 169h1v1h-1zM397 169h1v1h-1zM403 169h1v1h-1zM406 169h1v1h-1zM413 169h1v1h-1zM431 169h1v1h-1zM435 169h1v1h-1zM437 169h1v1h-1zM455 169h1v1h-1zM457 169h1v1h-1zM459 169h1v1h-1zM736 169h1v1h-1zM738 169h1v1h-1zM985 169h1v1h-1zM992 169h1v1h-1zM998 169h1v1h-1zM1002 169h1v1h-1zM52 170h1v1h-1zM62 170h1v1h-1zM69 170h1v1h-1zM95 170h1v1h-1zM144 170h1v1h-1zM295 170h2v1h-2zM306 170h1v1h-1zM315 170h1v1h-1zM320 170h1v1h-1zM326 170h1v1h-1zM328 170h1v1h-1zM334 170h2v1h-2zM338 170h1v1h-1zM342 170h1v1h-1zM346 170h1v1h-1zM349 170h2v1h-2zM367 170h1v1h-1zM371 170h1v1h-1zM374 170h2v1h-2zM380 170h1v1h-1zM385 170h1v1h-1zM389 170h4v1h-4zM396 170h1v1h-1zM403 170h1v1h-1zM406 170h1v1h-1zM414 170h1v1h-1zM431 170h2v1h-2zM435 170h1v1h-1zM437 170h1v1h-1zM447 170h1v1h-1zM454 170h1v1h-1zM456 170h1v1h-1zM460 170h1v1h-1zM736 170h1v1h-1zM738 170h1v1h-1zM985 170h1v1h-1zM993 170h1v1h-1zM998 170h1v1h-1zM1003 170h1v1h-1zM62 171h1v1h-1zM66 171h1v1h-1zM68 171h1v1h-1zM95 171h1v1h-1zM143 171h1v1h-1zM296 171h1v1h-1zM321 171h1v1h-1zM326 171h1v1h-1zM329 171h1v1h-1zM334 171h2v1h-2zM337 171h1v1h-1zM343 171h1v1h-1zM346 171h1v1h-1zM349 171h2v1h-2zM372 171h2v1h-2zM376 171h1v1h-1zM379 171h1v1h-1zM386 171h3v1h-3zM396 171h1v1h-1zM403 171h1v1h-1zM405 171h1v1h-1zM414 171h1v1h-1zM430 171h1v1h-1zM432 171h1v1h-1zM435 171h1v1h-1zM437 171h1v1h-1zM447 171h2v1h-2zM453 171h1v1h-1zM460 171h1v1h-1zM494 171h1v1h-1zM736 171h1v1h-1zM738 171h1v1h-1zM962 171h1v1h-1zM984 171h1v1h-1zM994 171h1v1h-1zM998 171h1v1h-1zM1004 171h1v1h-1zM63 172h1v1h-1zM66 172h1v1h-1zM68 172h1v1h-1zM96 172h1v1h-1zM139 172h1v1h-1zM143 172h1v1h-1zM321 172h1v1h-1zM326 172h1v1h-1zM329 172h1v1h-1zM334 172h1v1h-1zM336 172h1v1h-1zM343 172h1v1h-1zM345 172h1v1h-1zM350 172h1v1h-1zM377 172h1v1h-1zM379 172h1v1h-1zM386 172h1v1h-1zM404 172h2v1h-2zM414 172h1v1h-1zM418 172h1v1h-1zM430 172h1v1h-1zM433 172h1v1h-1zM435 172h1v1h-1zM437 172h1v1h-1zM442 172h2v1h-2zM446 172h1v1h-1zM449 172h1v1h-1zM452 172h1v1h-1zM460 172h1v1h-1zM488 172h1v1h-1zM494 172h1v1h-1zM505 172h1v1h-1zM736 172h1v1h-1zM738 172h1v1h-1zM962 172h1v1h-1zM984 172h1v1h-1zM994 172h1v1h-1zM997 172h1v1h-1zM1005 172h1v1h-1zM63 173h1v1h-1zM65 173h1v1h-1zM67 173h1v1h-1zM96 173h1v1h-1zM139 173h2v1h-2zM142 173h1v1h-1zM322 173h1v1h-1zM325 173h1v1h-1zM330 173h1v1h-1zM334 173h1v1h-1zM344 173h1v1h-1zM350 173h1v1h-1zM378 173h1v1h-1zM404 173h1v1h-1zM414 173h1v1h-1zM417 173h2v1h-2zM423 173h3v1h-3zM430 173h1v1h-1zM433 173h2v1h-2zM438 173h1v1h-1zM442 173h2v1h-2zM446 173h1v1h-1zM449 173h1v1h-1zM451 173h1v1h-1zM460 173h1v1h-1zM472 173h1v1h-1zM488 173h1v1h-1zM493 173h1v1h-1zM495 173h1v1h-1zM505 173h2v1h-2zM736 173h1v1h-1zM739 173h1v1h-1zM962 173h1v1h-1zM970 173h1v1h-1zM984 173h1v1h-1zM995 173h1v1h-1zM997 173h1v1h-1zM63 174h1v1h-1zM65 174h1v1h-1zM97 174h1v1h-1zM99 174h1v1h-1zM139 174h1v1h-1zM141 174h1v1h-1zM322 174h1v1h-1zM325 174h1v1h-1zM330 174h1v1h-1zM333 174h1v1h-1zM404 174h1v1h-1zM415 174h2v1h-2zM419 174h1v1h-1zM422 174h1v1h-1zM426 174h1v1h-1zM429 174h1v1h-1zM434 174h1v1h-1zM438 174h1v1h-1zM441 174h1v1h-1zM444 174h1v1h-1zM446 174h1v1h-1zM450 174h1v1h-1zM461 174h1v1h-1zM471 174h2v1h-2zM487 174h1v1h-1zM489 174h1v1h-1zM493 174h1v1h-1zM495 174h1v1h-1zM498 174h1v1h-1zM504 174h1v1h-1zM507 174h1v1h-1zM736 174h1v1h-1zM739 174h1v1h-1zM962 174h1v1h-1zM969 174h2v1h-2zM984 174h1v1h-1zM995 174h1v1h-1zM997 174h1v1h-1zM63 175h1v1h-1zM65 175h1v1h-1zM97 175h2v1h-2zM100 175h1v1h-1zM139 175h1v1h-1zM323 175h1v1h-1zM325 175h1v1h-1zM331 175h1v1h-1zM333 175h1v1h-1zM415 175h2v1h-2zM419 175h1v1h-1zM421 175h1v1h-1zM426 175h1v1h-1zM429 175h1v1h-1zM439 175h1v1h-1zM441 175h1v1h-1zM444 175h1v1h-1zM446 175h1v1h-1zM461 175h1v1h-1zM470 175h1v1h-1zM472 175h1v1h-1zM487 175h1v1h-1zM489 175h1v1h-1zM493 175h1v1h-1zM496 175h2v1h-2zM499 175h2v1h-2zM504 175h1v1h-1zM508 175h1v1h-1zM597 175h1v1h-1zM736 175h1v1h-1zM739 175h1v1h-1zM838 175h1v1h-1zM917 175h2v1h-2zM962 175h2v1h-2zM969 175h1v1h-1zM971 175h1v1h-1zM983 175h1v1h-1zM996 175h1v1h-1zM64 176h1v1h-1zM98 176h1v1h-1zM101 176h1v1h-1zM138 176h1v1h-1zM323 176h2v1h-2zM331 176h1v1h-1zM333 176h1v1h-1zM415 176h1v1h-1zM420 176h1v1h-1zM427 176h2v1h-2zM439 176h2v1h-2zM444 176h2v1h-2zM461 176h2v1h-2zM466 176h4v1h-4zM472 176h1v1h-1zM475 176h1v1h-1zM483 176h1v1h-1zM486 176h1v1h-1zM489 176h1v1h-1zM492 176h1v1h-1zM496 176h1v1h-1zM501 176h1v1h-1zM503 176h1v1h-1zM509 176h1v1h-1zM597 176h2v1h-2zM736 176h1v1h-1zM739 176h1v1h-1zM838 176h1v1h-1zM917 176h1v1h-1zM919 176h1v1h-1zM962 176h2v1h-2zM968 176h1v1h-1zM971 176h1v1h-1zM983 176h1v1h-1zM996 176h1v1h-1zM64 177h1v1h-1zM102 177h1v1h-1zM138 177h1v1h-1zM324 177h1v1h-1zM332 177h2v1h-2zM440 177h1v1h-1zM445 177h1v1h-1zM463 177h1v1h-1zM466 177h1v1h-1zM473 177h2v1h-2zM476 177h1v1h-1zM482 177h1v1h-1zM484 177h1v1h-1zM486 177h1v1h-1zM490 177h1v1h-1zM492 177h1v1h-1zM501 177h1v1h-1zM503 177h1v1h-1zM510 177h1v1h-1zM596 177h1v1h-1zM598 177h1v1h-1zM736 177h1v1h-1zM739 177h1v1h-1zM838 177h1v1h-1zM916 177h1v1h-1zM920 177h1v1h-1zM961 177h1v1h-1zM963 177h1v1h-1zM968 177h1v1h-1zM972 177h1v1h-1zM983 177h1v1h-1zM103 178h1v1h-1zM138 178h1v1h-1zM332 178h2v1h-2zM445 178h1v1h-1zM463 178h1v1h-1zM466 178h1v1h-1zM473 178h2v1h-2zM477 178h1v1h-1zM482 178h1v1h-1zM484 178h2v1h-2zM490 178h1v1h-1zM492 178h1v1h-1zM501 178h1v1h-1zM503 178h1v1h-1zM511 178h1v1h-1zM596 178h1v1h-1zM599 178h1v1h-1zM736 178h1v1h-1zM739 178h1v1h-1zM838 178h1v1h-1zM916 178h1v1h-1zM921 178h1v1h-1zM941 178h2v1h-2zM958 178h1v1h-1zM961 178h1v1h-1zM963 178h1v1h-1zM967 178h1v1h-1zM972 178h1v1h-1zM983 178h1v1h-1zM103 179h1v1h-1zM105 179h1v1h-1zM138 179h1v1h-1zM333 179h1v1h-1zM463 179h1v1h-1zM465 179h1v1h-1zM473 179h1v1h-1zM478 179h1v1h-1zM481 179h1v1h-1zM485 179h1v1h-1zM490 179h1v1h-1zM492 179h1v1h-1zM502 179h1v1h-1zM511 179h1v1h-1zM530 179h1v1h-1zM595 179h1v1h-1zM600 179h1v1h-1zM736 179h1v1h-1zM739 179h1v1h-1zM838 179h2v1h-2zM916 179h1v1h-1zM921 179h1v1h-1zM940 179h1v1h-1zM943 179h2v1h-2zM957 179h2v1h-2zM961 179h1v1h-1zM963 179h1v1h-1zM967 179h1v1h-1zM972 179h1v1h-1zM982 179h1v1h-1zM104 180h1v1h-1zM106 180h1v1h-1zM137 180h2v1h-2zM463 180h1v1h-1zM465 180h1v1h-1zM473 180h1v1h-1zM478 180h1v1h-1zM481 180h1v1h-1zM491 180h1v1h-1zM502 180h1v1h-1zM512 180h1v1h-1zM524 180h1v1h-1zM530 180h3v1h-3zM595 180h1v1h-1zM600 180h1v1h-1zM736 180h1v1h-1zM739 180h1v1h-1zM838 180h2v1h-2zM915 180h1v1h-1zM921 180h1v1h-1zM940 180h1v1h-1zM944 180h1v1h-1zM956 180h1v1h-1zM958 180h1v1h-1zM961 180h1v1h-1zM963 180h1v1h-1zM966 180h1v1h-1zM973 180h1v1h-1zM979 180h2v1h-2zM982 180h1v1h-1zM106 181h1v1h-1zM134 181h3v1h-3zM463 181h1v1h-1zM465 181h1v1h-1zM478 181h1v1h-1zM481 181h1v1h-1zM491 181h1v1h-1zM512 181h1v1h-1zM523 181h1v1h-1zM525 181h1v1h-1zM530 181h1v1h-1zM533 181h1v1h-1zM595 181h1v1h-1zM601 181h1v1h-1zM617 181h4v1h-4zM736 181h1v1h-1zM739 181h1v1h-1zM837 181h1v1h-1zM839 181h1v1h-1zM915 181h1v1h-1zM922 181h1v1h-1zM939 181h1v1h-1zM945 181h1v1h-1zM956 181h1v1h-1zM959 181h1v1h-1zM961 181h1v1h-1zM964 181h1v1h-1zM966 181h1v1h-1zM973 181h1v1h-1zM977 181h2v1h-2zM981 181h2v1h-2zM107 182h1v1h-1zM133 182h1v1h-1zM464 182h2v1h-2zM479 182h1v1h-1zM481 182h1v1h-1zM512 182h1v1h-1zM516 182h4v1h-4zM522 182h1v1h-1zM526 182h1v1h-1zM529 182h1v1h-1zM533 182h1v1h-1zM585 182h1v1h-1zM594 182h1v1h-1zM602 182h2v1h-2zM617 182h1v1h-1zM620 182h1v1h-1zM736 182h1v1h-1zM739 182h1v1h-1zM806 182h1v1h-1zM837 182h1v1h-1zM839 182h1v1h-1zM915 182h1v1h-1zM922 182h1v1h-1zM926 182h1v1h-1zM936 182h1v1h-1zM939 182h1v1h-1zM945 182h1v1h-1zM955 182h1v1h-1zM959 182h3v1h-3zM964 182h2v1h-2zM974 182h3v1h-3zM108 183h1v1h-1zM115 183h1v1h-1zM121 183h1v1h-1zM133 183h1v1h-1zM464 183h1v1h-1zM479 183h2v1h-2zM513 183h1v1h-1zM515 183h1v1h-1zM519 183h1v1h-1zM522 183h1v1h-1zM526 183h1v1h-1zM529 183h1v1h-1zM534 183h1v1h-1zM546 183h1v1h-1zM573 183h1v1h-1zM584 183h1v1h-1zM586 183h1v1h-1zM594 183h1v1h-1zM604 183h1v1h-1zM616 183h1v1h-1zM621 183h1v1h-1zM736 183h1v1h-1zM739 183h1v1h-1zM805 183h2v1h-2zM837 183h1v1h-1zM839 183h1v1h-1zM914 183h1v1h-1zM922 183h1v1h-1zM925 183h1v1h-1zM927 183h1v1h-1zM933 183h1v1h-1zM935 183h1v1h-1zM937 183h2v1h-2zM945 183h1v1h-1zM955 183h1v1h-1zM964 183h2v1h-2zM974 183h1v1h-1zM108 184h1v1h-1zM115 184h3v1h-3zM120 184h2v1h-2zM132 184h1v1h-1zM464 184h1v1h-1zM479 184h2v1h-2zM513 184h1v1h-1zM515 184h1v1h-1zM520 184h2v1h-2zM527 184h1v1h-1zM529 184h1v1h-1zM534 184h1v1h-1zM545 184h2v1h-2zM572 184h2v1h-2zM583 184h1v1h-1zM586 184h1v1h-1zM593 184h1v1h-1zM604 184h1v1h-1zM616 184h1v1h-1zM621 184h1v1h-1zM736 184h1v1h-1zM739 184h1v1h-1zM805 184h2v1h-2zM837 184h1v1h-1zM839 184h1v1h-1zM914 184h1v1h-1zM922 184h1v1h-1zM925 184h1v1h-1zM927 184h1v1h-1zM933 184h1v1h-1zM935 184h1v1h-1zM938 184h1v1h-1zM946 184h1v1h-1zM954 184h1v1h-1zM964 184h1v1h-1zM109 185h1v1h-1zM114 185h1v1h-1zM118 185h2v1h-2zM121 185h1v1h-1zM132 185h1v1h-1zM464 185h1v1h-1zM479 185h2v1h-2zM514 185h1v1h-1zM520 185h1v1h-1zM527 185h1v1h-1zM529 185h1v1h-1zM534 185h1v1h-1zM545 185h1v1h-1zM547 185h1v1h-1zM572 185h1v1h-1zM574 185h1v1h-1zM582 185h1v1h-1zM587 185h1v1h-1zM592 185h1v1h-1zM604 185h1v1h-1zM616 185h1v1h-1zM622 185h1v1h-1zM736 185h1v1h-1zM739 185h1v1h-1zM804 185h1v1h-1zM806 185h1v1h-1zM837 185h1v1h-1zM839 185h1v1h-1zM909 185h1v1h-1zM911 185h1v1h-1zM914 185h1v1h-1zM922 185h1v1h-1zM924 185h1v1h-1zM928 185h1v1h-1zM932 185h1v1h-1zM934 185h1v1h-1zM946 185h1v1h-1zM954 185h1v1h-1zM109 186h1v1h-1zM114 186h1v1h-1zM121 186h1v1h-1zM131 186h1v1h-1zM480 186h1v1h-1zM514 186h1v1h-1zM528 186h1v1h-1zM534 186h1v1h-1zM539 186h1v1h-1zM544 186h1v1h-1zM547 186h1v1h-1zM571 186h1v1h-1zM574 186h1v1h-1zM577 186h1v1h-1zM582 186h1v1h-1zM588 186h1v1h-1zM591 186h1v1h-1zM605 186h1v1h-1zM609 186h1v1h-1zM615 186h1v1h-1zM622 186h1v1h-1zM736 186h1v1h-1zM739 186h1v1h-1zM804 186h1v1h-1zM807 186h1v1h-1zM837 186h1v1h-1zM839 186h1v1h-1zM853 186h1v1h-1zM856 186h1v1h-1zM907 186h4v1h-4zM912 186h2v1h-2zM923 186h2v1h-2zM929 186h1v1h-1zM932 186h1v1h-1zM947 186h1v1h-1zM953 186h1v1h-1zM110 187h1v1h-1zM114 187h1v1h-1zM121 187h1v1h-1zM131 187h1v1h-1zM480 187h1v1h-1zM528 187h1v1h-1zM535 187h1v1h-1zM538 187h2v1h-2zM543 187h1v1h-1zM547 187h1v1h-1zM571 187h1v1h-1zM575 187h2v1h-2zM578 187h2v1h-2zM581 187h1v1h-1zM588 187h1v1h-1zM590 187h1v1h-1zM605 187h1v1h-1zM607 187h3v1h-3zM615 187h1v1h-1zM623 187h1v1h-1zM736 187h1v1h-1zM739 187h1v1h-1zM803 187h1v1h-1zM807 187h1v1h-1zM837 187h1v1h-1zM839 187h1v1h-1zM851 187h2v1h-2zM854 187h1v1h-1zM856 187h1v1h-1zM900 187h1v1h-1zM906 187h1v1h-1zM910 187h1v1h-1zM913 187h1v1h-1zM923 187h1v1h-1zM929 187h1v1h-1zM932 187h1v1h-1zM947 187h1v1h-1zM953 187h1v1h-1zM110 188h1v1h-1zM113 188h1v1h-1zM122 188h1v1h-1zM130 188h1v1h-1zM528 188h1v1h-1zM535 188h1v1h-1zM538 188h1v1h-1zM540 188h1v1h-1zM543 188h1v1h-1zM548 188h1v1h-1zM553 188h2v1h-2zM570 188h1v1h-1zM575 188h1v1h-1zM580 188h1v1h-1zM589 188h1v1h-1zM605 188h2v1h-2zM610 188h1v1h-1zM615 188h1v1h-1zM623 188h1v1h-1zM646 188h3v1h-3zM735 188h1v1h-1zM739 188h1v1h-1zM764 188h1v1h-1zM803 188h1v1h-1zM807 188h1v1h-1zM835 188h2v1h-2zM840 188h1v1h-1zM844 188h1v1h-1zM850 188h1v1h-1zM854 188h2v1h-2zM857 188h1v1h-1zM899 188h2v1h-2zM906 188h1v1h-1zM923 188h1v1h-1zM930 188h1v1h-1zM932 188h1v1h-1zM947 188h1v1h-1zM952 188h1v1h-1zM111 189h1v1h-1zM113 189h1v1h-1zM122 189h1v1h-1zM128 189h2v1h-2zM535 189h1v1h-1zM537 189h1v1h-1zM540 189h1v1h-1zM542 189h1v1h-1zM548 189h1v1h-1zM552 189h1v1h-1zM555 189h2v1h-2zM564 189h1v1h-1zM570 189h1v1h-1zM610 189h1v1h-1zM614 189h1v1h-1zM624 189h1v1h-1zM645 189h1v1h-1zM648 189h1v1h-1zM733 189h2v1h-2zM739 189h1v1h-1zM762 189h3v1h-3zM802 189h1v1h-1zM807 189h1v1h-1zM834 189h1v1h-1zM840 189h1v1h-1zM843 189h1v1h-1zM845 189h1v1h-1zM849 189h1v1h-1zM855 189h1v1h-1zM857 189h1v1h-1zM899 189h1v1h-1zM901 189h1v1h-1zM905 189h1v1h-1zM930 189h2v1h-2zM948 189h1v1h-1zM952 189h1v1h-1zM111 190h2v1h-2zM122 190h1v1h-1zM124 190h1v1h-1zM127 190h1v1h-1zM536 190h2v1h-2zM541 190h2v1h-2zM549 190h1v1h-1zM552 190h1v1h-1zM556 190h1v1h-1zM564 190h1v1h-1zM569 190h1v1h-1zM610 190h1v1h-1zM614 190h1v1h-1zM625 190h1v1h-1zM644 190h1v1h-1zM648 190h4v1h-4zM732 190h1v1h-1zM739 190h1v1h-1zM761 190h1v1h-1zM765 190h1v1h-1zM801 190h1v1h-1zM807 190h1v1h-1zM821 190h1v1h-1zM833 190h1v1h-1zM840 190h1v1h-1zM843 190h1v1h-1zM846 190h1v1h-1zM849 190h1v1h-1zM857 190h1v1h-1zM898 190h1v1h-1zM901 190h1v1h-1zM905 190h1v1h-1zM931 190h1v1h-1zM948 190h1v1h-1zM952 190h1v1h-1zM122 191h2v1h-2zM125 191h1v1h-1zM127 191h1v1h-1zM536 191h1v1h-1zM541 191h1v1h-1zM549 191h3v1h-3zM556 191h1v1h-1zM563 191h1v1h-1zM565 191h1v1h-1zM568 191h1v1h-1zM611 191h3v1h-3zM626 191h2v1h-2zM635 191h1v1h-1zM644 191h1v1h-1zM651 191h1v1h-1zM668 191h1v1h-1zM732 191h1v1h-1zM739 191h1v1h-1zM760 191h1v1h-1zM765 191h1v1h-1zM801 191h1v1h-1zM807 191h1v1h-1zM819 191h3v1h-3zM833 191h1v1h-1zM840 191h1v1h-1zM842 191h1v1h-1zM847 191h2v1h-2zM858 191h1v1h-1zM893 191h1v1h-1zM898 191h1v1h-1zM902 191h1v1h-1zM904 191h1v1h-1zM949 191h1v1h-1zM951 191h1v1h-1zM126 192h1v1h-1zM551 192h1v1h-1zM557 192h1v1h-1zM563 192h1v1h-1zM565 192h1v1h-1zM568 192h1v1h-1zM611 192h1v1h-1zM628 192h3v1h-3zM635 192h3v1h-3zM643 192h1v1h-1zM652 192h1v1h-1zM667 192h1v1h-1zM669 192h1v1h-1zM721 192h1v1h-1zM732 192h1v1h-1zM739 192h1v1h-1zM758 192h2v1h-2zM765 192h1v1h-1zM800 192h1v1h-1zM808 192h1v1h-1zM815 192h4v1h-4zM821 192h1v1h-1zM832 192h1v1h-1zM840 192h2v1h-2zM848 192h1v1h-1zM858 192h1v1h-1zM891 192h3v1h-3zM896 192h2v1h-2zM902 192h1v1h-1zM904 192h1v1h-1zM949 192h1v1h-1zM951 192h1v1h-1zM557 193h1v1h-1zM563 193h1v1h-1zM566 193h2v1h-2zM631 193h2v1h-2zM634 193h1v1h-1zM638 193h1v1h-1zM641 193h2v1h-2zM652 193h1v1h-1zM667 193h1v1h-1zM669 193h1v1h-1zM681 193h1v1h-1zM720 193h2v1h-2zM731 193h1v1h-1zM739 193h1v1h-1zM741 193h3v1h-3zM757 193h1v1h-1zM765 193h1v1h-1zM790 193h1v1h-1zM800 193h1v1h-1zM808 193h1v1h-1zM815 193h1v1h-1zM822 193h1v1h-1zM825 193h1v1h-1zM832 193h1v1h-1zM840 193h1v1h-1zM859 193h1v1h-1zM861 193h2v1h-2zM872 193h2v1h-2zM877 193h1v1h-1zM882 193h1v1h-1zM886 193h5v1h-5zM894 193h2v1h-2zM903 193h1v1h-1zM950 193h1v1h-1zM557 194h1v1h-1zM563 194h1v1h-1zM566 194h1v1h-1zM632 194h1v1h-1zM634 194h1v1h-1zM639 194h2v1h-2zM652 194h1v1h-1zM666 194h1v1h-1zM670 194h1v1h-1zM681 194h2v1h-2zM719 194h1v1h-1zM721 194h1v1h-1zM731 194h1v1h-1zM739 194h2v1h-2zM744 194h2v1h-2zM757 194h1v1h-1zM766 194h1v1h-1zM788 194h2v1h-2zM791 194h2v1h-2zM799 194h1v1h-1zM808 194h1v1h-1zM814 194h1v1h-1zM822 194h3v1h-3zM826 194h1v1h-1zM832 194h1v1h-1zM859 194h2v1h-2zM863 194h1v1h-1zM871 194h1v1h-1zM874 194h3v1h-3zM878 194h1v1h-1zM880 194h3v1h-3zM886 194h1v1h-1zM903 194h1v1h-1zM950 194h1v1h-1zM557 195h1v1h-1zM562 195h1v1h-1zM633 195h1v1h-1zM652 195h1v1h-1zM666 195h1v1h-1zM670 195h1v1h-1zM681 195h2v1h-2zM685 195h2v1h-2zM699 195h1v1h-1zM718 195h1v1h-1zM722 195h1v1h-1zM731 195h1v1h-1zM746 195h5v1h-5zM757 195h1v1h-1zM766 195h1v1h-1zM786 195h2v1h-2zM793 195h1v1h-1zM799 195h1v1h-1zM808 195h1v1h-1zM814 195h1v1h-1zM822 195h1v1h-1zM827 195h5v1h-5zM864 195h1v1h-1zM870 195h1v1h-1zM879 195h1v1h-1zM883 195h1v1h-1zM885 195h1v1h-1zM558 196h1v1h-1zM562 196h1v1h-1zM633 196h1v1h-1zM653 196h1v1h-1zM665 196h1v1h-1zM671 196h1v1h-1zM680 196h1v1h-1zM683 196h2v1h-2zM686 196h1v1h-1zM698 196h1v1h-1zM700 196h2v1h-2zM717 196h1v1h-1zM722 196h1v1h-1zM731 196h1v1h-1zM750 196h1v1h-1zM756 196h1v1h-1zM766 196h1v1h-1zM775 196h2v1h-2zM784 196h2v1h-2zM794 196h1v1h-1zM799 196h1v1h-1zM809 196h2v1h-2zM813 196h1v1h-1zM831 196h1v1h-1zM865 196h3v1h-3zM870 196h1v1h-1zM883 196h1v1h-1zM885 196h1v1h-1zM558 197h1v1h-1zM560 197h2v1h-2zM653 197h3v1h-3zM660 197h1v1h-1zM665 197h1v1h-1zM671 197h1v1h-1zM680 197h1v1h-1zM687 197h1v1h-1zM696 197h2v1h-2zM702 197h2v1h-2zM711 197h1v1h-1zM716 197h1v1h-1zM722 197h1v1h-1zM731 197h1v1h-1zM751 197h1v1h-1zM756 197h1v1h-1zM767 197h1v1h-1zM770 197h5v1h-5zM777 197h2v1h-2zM784 197h1v1h-1zM794 197h1v1h-1zM799 197h1v1h-1zM811 197h3v1h-3zM868 197h2v1h-2zM883 197h1v1h-1zM885 197h1v1h-1zM558 198h2v1h-2zM656 198h4v1h-4zM661 198h1v1h-1zM664 198h1v1h-1zM672 198h1v1h-1zM680 198h1v1h-1zM687 198h1v1h-1zM695 198h1v1h-1zM704 198h1v1h-1zM710 198h1v1h-1zM712 198h2v1h-2zM715 198h1v1h-1zM722 198h1v1h-1zM731 198h1v1h-1zM751 198h1v1h-1zM756 198h1v1h-1zM767 198h3v1h-3zM779 198h2v1h-2zM784 198h1v1h-1zM795 198h1v1h-1zM798 198h1v1h-1zM883 198h1v1h-1zM885 198h1v1h-1zM659 199h1v1h-1zM661 199h1v1h-1zM663 199h1v1h-1zM672 199h1v1h-1zM680 199h1v1h-1zM688 199h1v1h-1zM694 199h1v1h-1zM704 199h1v1h-1zM710 199h1v1h-1zM714 199h1v1h-1zM723 199h1v1h-1zM730 199h1v1h-1zM752 199h1v1h-1zM756 199h1v1h-1zM768 199h2v1h-2zM781 199h1v1h-1zM783 199h1v1h-1zM796 199h3v1h-3zM884 199h1v1h-1zM662 200h1v1h-1zM673 200h3v1h-3zM680 200h1v1h-1zM688 200h3v1h-3zM693 200h1v1h-1zM705 200h1v1h-1zM709 200h1v1h-1zM723 200h1v1h-1zM730 200h1v1h-1zM752 200h1v1h-1zM755 200h1v1h-1zM768 200h1v1h-1zM782 200h2v1h-2zM884 200h1v1h-1zM676 201h4v1h-4zM691 201h2v1h-2zM705 201h1v1h-1zM708 201h1v1h-1zM723 201h1v1h-1zM730 201h1v1h-1zM753 201h3v1h-3zM768 201h1v1h-1zM782 201h2v1h-2zM678 202h2v1h-2zM705 202h1v1h-1zM708 202h1v1h-1zM723 202h1v1h-1zM730 202h1v1h-1zM755 202h1v1h-1zM783 202h1v1h-1zM679 203h1v1h-1zM705 203h1v1h-1zM707 203h1v1h-1zM724 203h1v1h-1zM729 203h1v1h-1zM706 204h2v1h-2zM724 204h1v1h-1zM729 204h1v1h-1zM706 205h1v1h-1zM724 205h1v1h-1zM728 205h1v1h-1zM724 206h1v1h-1zM727 206h1v1h-1zM725 207h2v1h-2zM725 208h2v1h-2zM725 209h1v1h-1z"/></g>
</svg></body></html>
